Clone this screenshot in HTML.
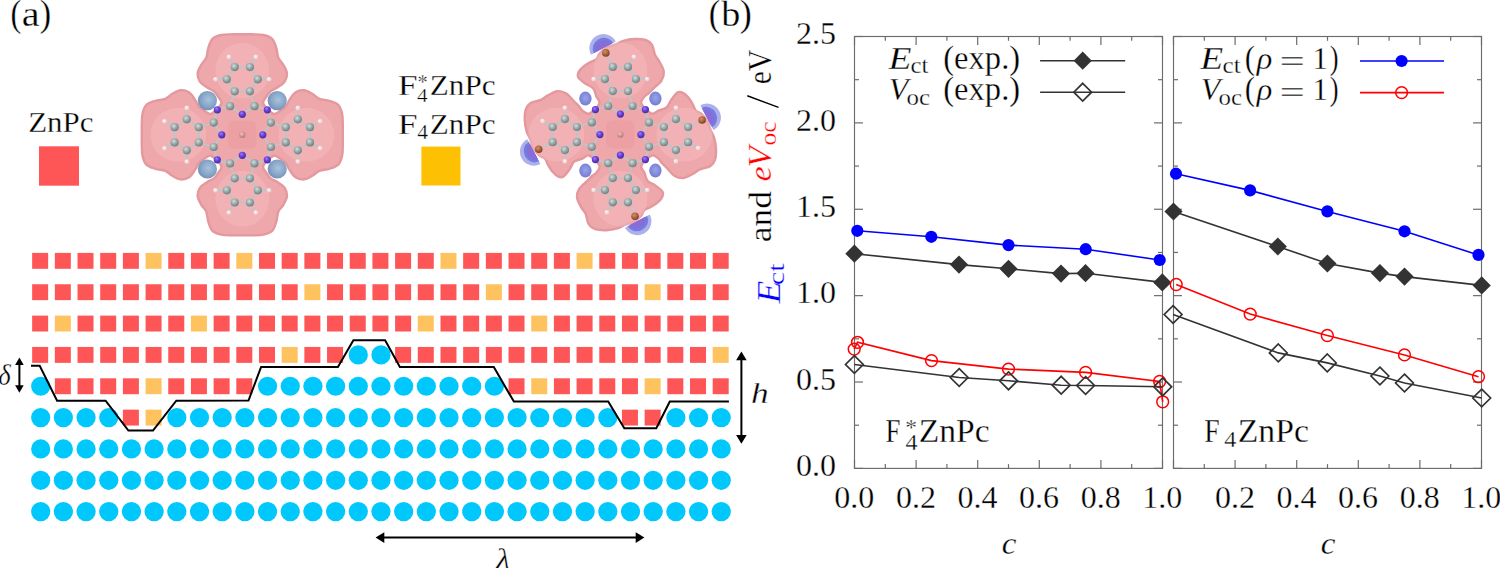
<!DOCTYPE html>
<html><head><meta charset="utf-8"><style>
html,body{margin:0;padding:0;background:#fff;overflow:hidden;width:1500px;height:568px;}
svg{display:block;font-family:"Liberation Serif", serif;}
text{stroke:#fff;stroke-width:0.3px;}
</style></head><body>
<svg width="1500" height="568" viewBox="0 0 1500 568">
<defs>
<radialGradient id="gC" cx="0.4" cy="0.35" r="0.65"><stop offset="0" stop-color="#d4dede"/><stop offset="0.5" stop-color="#9aabab"/><stop offset="1" stop-color="#6e8080"/></radialGradient>
<radialGradient id="gN" cx="0.4" cy="0.35" r="0.65"><stop offset="0" stop-color="#9a80ff"/><stop offset="0.5" stop-color="#6a3fd8"/><stop offset="1" stop-color="#4a2aa0"/></radialGradient>
<radialGradient id="gH" cx="0.4" cy="0.35" r="0.65"><stop offset="0" stop-color="#fff6f6"/><stop offset="1" stop-color="#e8c8c8"/></radialGradient>
<radialGradient id="gZ" cx="0.4" cy="0.35" r="0.65"><stop offset="0" stop-color="#f0c0b8"/><stop offset="1" stop-color="#b87870"/></radialGradient>
<radialGradient id="gB" cx="0.55" cy="0.45" r="0.6"><stop offset="0" stop-color="#a9c3de"/><stop offset="0.6" stop-color="#89a6c8"/><stop offset="1" stop-color="#6f8db3"/></radialGradient>
<radialGradient id="gP" cx="0.5" cy="0.45" r="0.6"><stop offset="0" stop-color="#9aa4ea"/><stop offset="1" stop-color="#6f78d0"/></radialGradient>
<radialGradient id="gFB" cx="0.5" cy="0.5" r="0.55"><stop offset="0" stop-color="#5a5ad8" stop-opacity="0.95"/><stop offset="0.7" stop-color="#6c70d8" stop-opacity="0.85"/><stop offset="1" stop-color="#8a90e0" stop-opacity="0.6"/></radialGradient>
<radialGradient id="gF" cx="0.4" cy="0.35" r="0.65"><stop offset="0" stop-color="#d89060"/><stop offset="0.6" stop-color="#a8603a"/><stop offset="1" stop-color="#7a4020"/></radialGradient>
</defs>
<text x="10.48" y="26.20" font-size="38.5" fill="#000" textLength="10.76" lengthAdjust="spacingAndGlyphs">(</text>
<text x="21.88" y="26.20" font-size="35" fill="#000" textLength="17.87" lengthAdjust="spacingAndGlyphs">a</text>
<text x="39.80" y="26.20" font-size="38.5" fill="#000" textLength="11.41" lengthAdjust="spacingAndGlyphs">)</text>
<text x="708.69" y="26.20" font-size="38.5" fill="#000" textLength="11.41" lengthAdjust="spacingAndGlyphs">(</text>
<text x="721.30" y="26.20" font-size="35" fill="#000" textLength="19.05" lengthAdjust="spacingAndGlyphs">b</text>
<text x="739.83" y="26.20" font-size="38.5" fill="#000" textLength="12.06" lengthAdjust="spacingAndGlyphs">)</text>
<text x="28.22" y="132.20" font-size="29.8" fill="#000" textLength="65.23" lengthAdjust="spacingAndGlyphs">ZnPc</text>
<rect x="39" y="146.3" width="40" height="39.4" fill="#fe5656"/>
<rect x="421.4" y="146.6" width="39.1" height="38.9" fill="#fec002"/>
<text x="397.87" y="94.60" font-size="29.8" fill="#000" textLength="19.81" lengthAdjust="spacingAndGlyphs">F</text>
<text x="416.98" y="101.70" font-size="18.5" fill="#000" textLength="10.65" lengthAdjust="spacingAndGlyphs">4</text>
<text x="417.51" y="89.25" font-size="21" fill="#000" textLength="10.17" lengthAdjust="spacingAndGlyphs">*</text>
<text x="429.81" y="94.60" font-size="29.8" fill="#000" textLength="65.75" lengthAdjust="spacingAndGlyphs">ZnPc</text>
<text x="397.87" y="134.00" font-size="29.8" fill="#000" textLength="19.81" lengthAdjust="spacingAndGlyphs">F</text>
<text x="417.28" y="138.60" font-size="20.5" fill="#000" textLength="10.76" lengthAdjust="spacingAndGlyphs">4</text>
<text x="429.81" y="134.00" font-size="29.8" fill="#000" textLength="65.75" lengthAdjust="spacingAndGlyphs">ZnPc</text>
<path d="M221.30,103.80 C222.47,100.97 219.47,98.85 218.30,96.80 C217.13,94.75 216.20,93.08 214.30,91.50 C212.40,89.92 209.30,88.93 206.90,87.30 C204.50,85.67 201.43,84.05 199.90,81.70 C198.37,79.35 197.47,76.02 197.70,73.20 C197.93,70.38 199.87,67.37 201.30,64.80 C202.73,62.23 205.13,60.62 206.30,57.80 C207.47,54.98 207.27,51.07 208.30,47.90 C209.33,44.73 210.33,40.95 212.50,38.80 C214.67,36.65 218.00,35.75 221.30,35.00 C224.60,34.25 228.80,34.42 232.30,34.30 C235.80,34.18 238.97,34.30 242.30,34.30 C245.63,34.30 248.80,34.18 252.30,34.30 C255.80,34.42 260.00,34.25 263.30,35.00 C266.60,35.75 269.93,36.65 272.10,38.80 C274.27,40.95 275.27,44.73 276.30,47.90 C277.33,51.07 277.13,54.98 278.30,57.80 C279.47,60.62 281.87,62.23 283.30,64.80 C284.73,67.37 286.67,70.38 286.90,73.20 C287.13,76.02 286.23,79.35 284.70,81.70 C283.17,84.05 280.10,85.67 277.70,87.30 C275.30,88.93 272.20,89.92 270.30,91.50 C268.40,93.08 267.47,94.75 266.30,96.80 C265.13,98.85 262.13,100.97 263.30,103.80 C264.47,106.63 270.47,112.63 273.30,113.80 C276.13,114.97 278.25,111.97 280.30,110.80 C282.35,109.63 284.02,108.70 285.60,106.80 C287.18,104.90 288.17,101.80 289.80,99.40 C291.43,97.00 293.05,93.93 295.40,92.40 C297.75,90.87 301.08,89.97 303.90,90.20 C306.72,90.43 309.73,92.37 312.30,93.80 C314.87,95.23 316.48,97.63 319.30,98.80 C322.12,99.97 326.03,99.77 329.20,100.80 C332.37,101.83 336.15,102.83 338.30,105.00 C340.45,107.17 341.35,110.50 342.10,113.80 C342.85,117.10 342.68,121.30 342.80,124.80 C342.92,128.30 342.80,131.47 342.80,134.80 C342.80,138.13 342.92,141.30 342.80,144.80 C342.68,148.30 342.85,152.50 342.10,155.80 C341.35,159.10 340.45,162.43 338.30,164.60 C336.15,166.77 332.37,167.77 329.20,168.80 C326.03,169.83 322.12,169.63 319.30,170.80 C316.48,171.97 314.87,174.37 312.30,175.80 C309.73,177.23 306.72,179.17 303.90,179.40 C301.08,179.63 297.75,178.73 295.40,177.20 C293.05,175.67 291.43,172.60 289.80,170.20 C288.17,167.80 287.18,164.70 285.60,162.80 C284.02,160.90 282.35,159.97 280.30,158.80 C278.25,157.63 276.13,154.63 273.30,155.80 C270.47,156.97 264.47,162.97 263.30,165.80 C262.13,168.63 265.13,170.75 266.30,172.80 C267.47,174.85 268.40,176.52 270.30,178.10 C272.20,179.68 275.30,180.67 277.70,182.30 C280.10,183.93 283.17,185.55 284.70,187.90 C286.23,190.25 287.13,193.58 286.90,196.40 C286.67,199.22 284.73,202.23 283.30,204.80 C281.87,207.37 279.47,208.98 278.30,211.80 C277.13,214.62 277.33,218.53 276.30,221.70 C275.27,224.87 274.27,228.65 272.10,230.80 C269.93,232.95 266.60,233.85 263.30,234.60 C260.00,235.35 255.80,235.18 252.30,235.30 C248.80,235.42 245.63,235.30 242.30,235.30 C238.97,235.30 235.80,235.42 232.30,235.30 C228.80,235.18 224.60,235.35 221.30,234.60 C218.00,233.85 214.67,232.95 212.50,230.80 C210.33,228.65 209.33,224.87 208.30,221.70 C207.27,218.53 207.47,214.62 206.30,211.80 C205.13,208.98 202.73,207.37 201.30,204.80 C199.87,202.23 197.93,199.22 197.70,196.40 C197.47,193.58 198.37,190.25 199.90,187.90 C201.43,185.55 204.50,183.93 206.90,182.30 C209.30,180.67 212.40,179.68 214.30,178.10 C216.20,176.52 217.13,174.85 218.30,172.80 C219.47,170.75 222.47,168.63 221.30,165.80 C220.13,162.97 214.13,156.97 211.30,155.80 C208.47,154.63 206.35,157.63 204.30,158.80 C202.25,159.97 200.58,160.90 199.00,162.80 C197.42,164.70 196.43,167.80 194.80,170.20 C193.17,172.60 191.55,175.67 189.20,177.20 C186.85,178.73 183.52,179.63 180.70,179.40 C177.88,179.17 174.87,177.23 172.30,175.80 C169.73,174.37 168.12,171.97 165.30,170.80 C162.48,169.63 158.57,169.83 155.40,168.80 C152.23,167.77 148.45,166.77 146.30,164.60 C144.15,162.43 143.25,159.10 142.50,155.80 C141.75,152.50 141.92,148.30 141.80,144.80 C141.68,141.30 141.80,138.13 141.80,134.80 C141.80,131.47 141.68,128.30 141.80,124.80 C141.92,121.30 141.75,117.10 142.50,113.80 C143.25,110.50 144.15,107.17 146.30,105.00 C148.45,102.83 152.23,101.83 155.40,100.80 C158.57,99.77 162.48,99.97 165.30,98.80 C168.12,97.63 169.73,95.23 172.30,93.80 C174.87,92.37 177.88,90.43 180.70,90.20 C183.52,89.97 186.85,90.87 189.20,92.40 C191.55,93.93 193.17,97.00 194.80,99.40 C196.43,101.80 197.42,104.90 199.00,106.80 C200.58,108.70 202.25,109.63 204.30,110.80 C206.35,111.97 208.47,114.97 211.30,113.80 C214.13,112.63 220.13,106.63 221.30,103.80Z" fill="#eea7aa" stroke="#e3999d" stroke-width="2.4"/>
<ellipse cx="242.3" cy="70.8" rx="27" ry="28" fill="#f5bcbe" opacity="0.5"/>
<ellipse cx="306.3" cy="134.8" rx="28" ry="27" fill="#f5bcbe" opacity="0.5"/>
<ellipse cx="242.3" cy="198.8" rx="27" ry="28" fill="#f5bcbe" opacity="0.5"/>
<ellipse cx="178.3" cy="134.8" rx="28" ry="27" fill="#f5bcbe" opacity="0.5"/>
<rect x="228.3" y="120.80000000000001" width="28" height="28" rx="6" fill="#e99a9d" opacity="0.5"/>
<circle cx="207.4" cy="100.6" r="9.6" fill="url(#gB)"/>
<circle cx="277.2" cy="100.6" r="9.6" fill="url(#gB)"/>
<circle cx="207.4" cy="169.0" r="9.6" fill="url(#gB)"/>
<circle cx="277.2" cy="169.0" r="9.6" fill="url(#gB)"/>
<line x1="242.3" y1="114.3" x2="230.1" y2="106.2" stroke="#bcc6c8" stroke-width="1.8"/>
<line x1="242.3" y1="114.3" x2="254.5" y2="106.2" stroke="#bcc6c8" stroke-width="1.8"/>
<line x1="230.1" y1="106.2" x2="234.7" y2="91.3" stroke="#bcc6c8" stroke-width="1.8"/>
<line x1="254.5" y1="106.2" x2="249.9" y2="91.3" stroke="#bcc6c8" stroke-width="1.8"/>
<line x1="234.7" y1="91.3" x2="249.9" y2="91.3" stroke="#bcc6c8" stroke-width="1.8"/>
<line x1="234.7" y1="91.3" x2="226.8" y2="79.3" stroke="#bcc6c8" stroke-width="1.8"/>
<line x1="226.8" y1="79.3" x2="234.7" y2="67.1" stroke="#bcc6c8" stroke-width="1.8"/>
<line x1="234.7" y1="67.1" x2="249.9" y2="67.1" stroke="#bcc6c8" stroke-width="1.8"/>
<line x1="249.9" y1="67.1" x2="257.8" y2="79.3" stroke="#bcc6c8" stroke-width="1.8"/>
<line x1="257.8" y1="79.3" x2="249.9" y2="91.3" stroke="#bcc6c8" stroke-width="1.8"/>
<line x1="226.8" y1="79.3" x2="215.5" y2="79.3" stroke="#bcc6c8" stroke-width="1.8"/>
<line x1="257.8" y1="79.3" x2="269.1" y2="79.3" stroke="#bcc6c8" stroke-width="1.8"/>
<line x1="249.9" y1="67.1" x2="255.8" y2="57.0" stroke="#bcc6c8" stroke-width="1.8"/>
<line x1="254.5" y1="106.2" x2="267.3" y2="109.8" stroke="#bcc6c8" stroke-width="1.8"/>
<line x1="217.3" y1="109.8" x2="230.1" y2="106.2" stroke="#bcc6c8" stroke-width="1.8"/>
<line x1="234.7" y1="67.1" x2="228.8" y2="57.0" stroke="#bcc6c8" stroke-width="1.8"/>
<line x1="262.8" y1="134.8" x2="270.9" y2="122.6" stroke="#bcc6c8" stroke-width="1.8"/>
<line x1="262.8" y1="134.8" x2="270.9" y2="147.0" stroke="#bcc6c8" stroke-width="1.8"/>
<line x1="270.9" y1="122.6" x2="285.8" y2="127.2" stroke="#bcc6c8" stroke-width="1.8"/>
<line x1="270.9" y1="147.0" x2="285.8" y2="142.4" stroke="#bcc6c8" stroke-width="1.8"/>
<line x1="285.8" y1="127.2" x2="285.8" y2="142.4" stroke="#bcc6c8" stroke-width="1.8"/>
<line x1="285.8" y1="127.2" x2="297.8" y2="119.3" stroke="#bcc6c8" stroke-width="1.8"/>
<line x1="297.8" y1="119.3" x2="310.0" y2="127.2" stroke="#bcc6c8" stroke-width="1.8"/>
<line x1="310.0" y1="127.2" x2="310.0" y2="142.4" stroke="#bcc6c8" stroke-width="1.8"/>
<line x1="310.0" y1="142.4" x2="297.8" y2="150.3" stroke="#bcc6c8" stroke-width="1.8"/>
<line x1="297.8" y1="150.3" x2="285.8" y2="142.4" stroke="#bcc6c8" stroke-width="1.8"/>
<line x1="297.8" y1="119.3" x2="297.8" y2="108.0" stroke="#bcc6c8" stroke-width="1.8"/>
<line x1="297.8" y1="150.3" x2="297.8" y2="161.6" stroke="#bcc6c8" stroke-width="1.8"/>
<line x1="310.0" y1="142.4" x2="320.1" y2="148.3" stroke="#bcc6c8" stroke-width="1.8"/>
<line x1="270.9" y1="147.0" x2="267.3" y2="159.8" stroke="#bcc6c8" stroke-width="1.8"/>
<line x1="267.3" y1="109.8" x2="270.9" y2="122.6" stroke="#bcc6c8" stroke-width="1.8"/>
<line x1="310.0" y1="127.2" x2="320.1" y2="121.3" stroke="#bcc6c8" stroke-width="1.8"/>
<line x1="242.3" y1="155.3" x2="254.5" y2="163.4" stroke="#bcc6c8" stroke-width="1.8"/>
<line x1="242.3" y1="155.3" x2="230.1" y2="163.4" stroke="#bcc6c8" stroke-width="1.8"/>
<line x1="254.5" y1="163.4" x2="249.9" y2="178.3" stroke="#bcc6c8" stroke-width="1.8"/>
<line x1="230.1" y1="163.4" x2="234.7" y2="178.3" stroke="#bcc6c8" stroke-width="1.8"/>
<line x1="249.9" y1="178.3" x2="234.7" y2="178.3" stroke="#bcc6c8" stroke-width="1.8"/>
<line x1="249.9" y1="178.3" x2="257.8" y2="190.3" stroke="#bcc6c8" stroke-width="1.8"/>
<line x1="257.8" y1="190.3" x2="249.9" y2="202.5" stroke="#bcc6c8" stroke-width="1.8"/>
<line x1="249.9" y1="202.5" x2="234.7" y2="202.5" stroke="#bcc6c8" stroke-width="1.8"/>
<line x1="234.7" y1="202.5" x2="226.8" y2="190.3" stroke="#bcc6c8" stroke-width="1.8"/>
<line x1="226.8" y1="190.3" x2="234.7" y2="178.3" stroke="#bcc6c8" stroke-width="1.8"/>
<line x1="257.8" y1="190.3" x2="269.1" y2="190.3" stroke="#bcc6c8" stroke-width="1.8"/>
<line x1="226.8" y1="190.3" x2="215.5" y2="190.3" stroke="#bcc6c8" stroke-width="1.8"/>
<line x1="234.7" y1="202.5" x2="228.8" y2="212.6" stroke="#bcc6c8" stroke-width="1.8"/>
<line x1="230.1" y1="163.4" x2="217.3" y2="159.8" stroke="#bcc6c8" stroke-width="1.8"/>
<line x1="267.3" y1="159.8" x2="254.5" y2="163.4" stroke="#bcc6c8" stroke-width="1.8"/>
<line x1="249.9" y1="202.5" x2="255.8" y2="212.6" stroke="#bcc6c8" stroke-width="1.8"/>
<line x1="221.8" y1="134.8" x2="213.7" y2="147.0" stroke="#bcc6c8" stroke-width="1.8"/>
<line x1="221.8" y1="134.8" x2="213.7" y2="122.6" stroke="#bcc6c8" stroke-width="1.8"/>
<line x1="213.7" y1="147.0" x2="198.8" y2="142.4" stroke="#bcc6c8" stroke-width="1.8"/>
<line x1="213.7" y1="122.6" x2="198.8" y2="127.2" stroke="#bcc6c8" stroke-width="1.8"/>
<line x1="198.8" y1="142.4" x2="198.8" y2="127.2" stroke="#bcc6c8" stroke-width="1.8"/>
<line x1="198.8" y1="142.4" x2="186.8" y2="150.3" stroke="#bcc6c8" stroke-width="1.8"/>
<line x1="186.8" y1="150.3" x2="174.6" y2="142.4" stroke="#bcc6c8" stroke-width="1.8"/>
<line x1="174.6" y1="142.4" x2="174.6" y2="127.2" stroke="#bcc6c8" stroke-width="1.8"/>
<line x1="174.6" y1="127.2" x2="186.8" y2="119.3" stroke="#bcc6c8" stroke-width="1.8"/>
<line x1="186.8" y1="119.3" x2="198.8" y2="127.2" stroke="#bcc6c8" stroke-width="1.8"/>
<line x1="186.8" y1="150.3" x2="186.8" y2="161.6" stroke="#bcc6c8" stroke-width="1.8"/>
<line x1="186.8" y1="119.3" x2="186.8" y2="108.0" stroke="#bcc6c8" stroke-width="1.8"/>
<line x1="174.6" y1="127.2" x2="164.5" y2="121.3" stroke="#bcc6c8" stroke-width="1.8"/>
<line x1="213.7" y1="122.6" x2="217.3" y2="109.8" stroke="#bcc6c8" stroke-width="1.8"/>
<line x1="217.3" y1="159.8" x2="213.7" y2="147.0" stroke="#bcc6c8" stroke-width="1.8"/>
<line x1="174.6" y1="142.4" x2="164.5" y2="148.3" stroke="#bcc6c8" stroke-width="1.8"/>
<circle cx="230.1" cy="106.2" r="4.1" fill="url(#gC)"/>
<circle cx="254.5" cy="106.2" r="4.1" fill="url(#gC)"/>
<circle cx="234.7" cy="91.3" r="4.1" fill="url(#gC)"/>
<circle cx="249.9" cy="91.3" r="4.1" fill="url(#gC)"/>
<circle cx="226.8" cy="79.3" r="4.1" fill="url(#gC)"/>
<circle cx="257.8" cy="79.3" r="4.1" fill="url(#gC)"/>
<circle cx="234.7" cy="67.1" r="4.1" fill="url(#gC)"/>
<circle cx="249.9" cy="67.1" r="4.1" fill="url(#gC)"/>
<circle cx="270.9" cy="122.6" r="4.1" fill="url(#gC)"/>
<circle cx="270.9" cy="147.0" r="4.1" fill="url(#gC)"/>
<circle cx="285.8" cy="127.2" r="4.1" fill="url(#gC)"/>
<circle cx="285.8" cy="142.4" r="4.1" fill="url(#gC)"/>
<circle cx="297.8" cy="119.3" r="4.1" fill="url(#gC)"/>
<circle cx="297.8" cy="150.3" r="4.1" fill="url(#gC)"/>
<circle cx="310.0" cy="127.2" r="4.1" fill="url(#gC)"/>
<circle cx="310.0" cy="142.4" r="4.1" fill="url(#gC)"/>
<circle cx="254.5" cy="163.4" r="4.1" fill="url(#gC)"/>
<circle cx="230.1" cy="163.4" r="4.1" fill="url(#gC)"/>
<circle cx="249.9" cy="178.3" r="4.1" fill="url(#gC)"/>
<circle cx="234.7" cy="178.3" r="4.1" fill="url(#gC)"/>
<circle cx="257.8" cy="190.3" r="4.1" fill="url(#gC)"/>
<circle cx="226.8" cy="190.3" r="4.1" fill="url(#gC)"/>
<circle cx="249.9" cy="202.5" r="4.1" fill="url(#gC)"/>
<circle cx="234.7" cy="202.5" r="4.1" fill="url(#gC)"/>
<circle cx="213.7" cy="147.0" r="4.1" fill="url(#gC)"/>
<circle cx="213.7" cy="122.6" r="4.1" fill="url(#gC)"/>
<circle cx="198.8" cy="142.4" r="4.1" fill="url(#gC)"/>
<circle cx="198.8" cy="127.2" r="4.1" fill="url(#gC)"/>
<circle cx="186.8" cy="150.3" r="4.1" fill="url(#gC)"/>
<circle cx="186.8" cy="119.3" r="4.1" fill="url(#gC)"/>
<circle cx="174.6" cy="142.4" r="4.1" fill="url(#gC)"/>
<circle cx="174.6" cy="127.2" r="4.1" fill="url(#gC)"/>
<circle cx="242.3" cy="114.3" r="3.6" fill="url(#gN)"/>
<circle cx="267.3" cy="109.8" r="3.6" fill="url(#gN)"/>
<circle cx="262.8" cy="134.8" r="3.6" fill="url(#gN)"/>
<circle cx="267.3" cy="159.8" r="3.6" fill="url(#gN)"/>
<circle cx="242.3" cy="155.3" r="3.6" fill="url(#gN)"/>
<circle cx="217.3" cy="159.8" r="3.6" fill="url(#gN)"/>
<circle cx="221.8" cy="134.8" r="3.6" fill="url(#gN)"/>
<circle cx="217.3" cy="109.8" r="3.6" fill="url(#gN)"/>
<circle cx="228.8" cy="57.0" r="2.4" fill="url(#gH)"/>
<circle cx="215.5" cy="79.3" r="2.4" fill="url(#gH)"/>
<circle cx="269.1" cy="79.3" r="2.4" fill="url(#gH)"/>
<circle cx="255.8" cy="57.0" r="2.4" fill="url(#gH)"/>
<circle cx="320.1" cy="121.3" r="2.4" fill="url(#gH)"/>
<circle cx="297.8" cy="108.0" r="2.4" fill="url(#gH)"/>
<circle cx="297.8" cy="161.6" r="2.4" fill="url(#gH)"/>
<circle cx="320.1" cy="148.3" r="2.4" fill="url(#gH)"/>
<circle cx="255.8" cy="212.6" r="2.4" fill="url(#gH)"/>
<circle cx="269.1" cy="190.3" r="2.4" fill="url(#gH)"/>
<circle cx="215.5" cy="190.3" r="2.4" fill="url(#gH)"/>
<circle cx="228.8" cy="212.6" r="2.4" fill="url(#gH)"/>
<circle cx="164.5" cy="148.3" r="2.4" fill="url(#gH)"/>
<circle cx="186.8" cy="161.6" r="2.4" fill="url(#gH)"/>
<circle cx="186.8" cy="108.0" r="2.4" fill="url(#gH)"/>
<circle cx="164.5" cy="121.3" r="2.4" fill="url(#gH)"/>
<circle cx="242.3" cy="134.8" r="3.2" fill="url(#gZ)"/>
<path d="M599.40,103.60 C600.57,100.77 597.42,99.13 596.40,96.60 C595.38,94.07 595.13,90.57 593.30,88.40 C591.47,86.23 587.92,85.45 585.40,83.60 C582.88,81.75 579.28,79.30 578.20,77.30 C577.12,75.30 578.03,73.38 578.90,71.60 C579.77,69.82 581.48,68.18 583.40,66.60 C585.32,65.02 588.22,63.35 590.40,62.10 C592.58,60.85 594.97,60.53 596.50,59.10 C598.03,57.67 597.75,55.48 599.60,53.50 C601.45,51.52 604.95,48.68 607.60,47.20 C610.25,45.72 612.87,45.65 615.50,44.60 C618.13,43.55 620.23,41.83 623.40,40.90 C626.57,39.97 630.80,39.15 634.50,39.00 C638.20,38.85 642.68,39.03 645.60,40.00 C648.52,40.97 650.42,42.28 652.00,44.80 C653.58,47.32 653.87,52.30 655.10,55.10 C656.33,57.90 657.95,58.85 659.40,61.60 C660.85,64.35 663.45,68.45 663.80,71.60 C664.15,74.75 663.22,77.70 661.50,80.50 C659.78,83.30 655.62,86.28 653.50,88.40 C651.38,90.52 650.32,91.83 648.80,93.20 C647.28,94.57 645.63,94.87 644.40,96.60 C643.17,98.33 640.23,100.77 641.40,103.60 C642.57,106.43 648.57,112.43 651.40,113.60 C654.23,114.77 655.87,111.62 658.40,110.60 C660.93,109.58 664.43,109.33 666.60,107.50 C668.77,105.67 669.55,102.12 671.40,99.60 C673.25,97.08 675.70,93.48 677.70,92.40 C679.70,91.32 681.62,92.23 683.40,93.10 C685.18,93.97 686.82,95.68 688.40,97.60 C689.98,99.52 691.65,102.42 692.90,104.60 C694.15,106.78 694.47,109.17 695.90,110.70 C697.33,112.23 699.52,111.95 701.50,113.80 C703.48,115.65 706.32,119.15 707.80,121.80 C709.28,124.45 709.35,127.07 710.40,129.70 C711.45,132.33 713.17,134.43 714.10,137.60 C715.03,140.77 715.85,145.00 716.00,148.70 C716.15,152.40 715.97,156.88 715.00,159.80 C714.03,162.72 712.72,164.62 710.20,166.20 C707.68,167.78 702.70,168.07 699.90,169.30 C697.10,170.53 696.15,172.15 693.40,173.60 C690.65,175.05 686.55,177.65 683.40,178.00 C680.25,178.35 677.30,177.42 674.50,175.70 C671.70,173.98 668.72,169.82 666.60,167.70 C664.48,165.58 663.17,164.52 661.80,163.00 C660.43,161.48 660.13,159.83 658.40,158.60 C656.67,157.37 654.23,154.43 651.40,155.60 C648.57,156.77 642.57,162.77 641.40,165.60 C640.23,168.43 643.38,170.07 644.40,172.60 C645.42,175.13 645.67,178.63 647.50,180.80 C649.33,182.97 652.88,183.75 655.40,185.60 C657.92,187.45 661.52,189.90 662.60,191.90 C663.68,193.90 662.77,195.82 661.90,197.60 C661.03,199.38 659.32,201.02 657.40,202.60 C655.48,204.18 652.58,205.85 650.40,207.10 C648.22,208.35 645.83,208.67 644.30,210.10 C642.77,211.53 643.05,213.72 641.20,215.70 C639.35,217.68 635.85,220.52 633.20,222.00 C630.55,223.48 627.93,223.55 625.30,224.60 C622.67,225.65 620.57,227.37 617.40,228.30 C614.23,229.23 610.00,230.05 606.30,230.20 C602.60,230.35 598.12,230.17 595.20,229.20 C592.28,228.23 590.38,226.92 588.80,224.40 C587.22,221.88 586.93,216.90 585.70,214.10 C584.47,211.30 582.85,210.35 581.40,207.60 C579.95,204.85 577.35,200.75 577.00,197.60 C576.65,194.45 577.58,191.50 579.30,188.70 C581.02,185.90 585.18,182.92 587.30,180.80 C589.42,178.68 590.48,177.37 592.00,176.00 C593.52,174.63 595.17,174.33 596.40,172.60 C597.63,170.87 600.57,168.43 599.40,165.60 C598.23,162.77 592.23,156.77 589.40,155.60 C586.57,154.43 584.93,157.58 582.40,158.60 C579.87,159.62 576.37,159.87 574.20,161.70 C572.03,163.53 571.25,167.08 569.40,169.60 C567.55,172.12 565.10,175.72 563.10,176.80 C561.10,177.88 559.18,176.97 557.40,176.10 C555.62,175.23 553.98,173.52 552.40,171.60 C550.82,169.68 549.15,166.78 547.90,164.60 C546.65,162.42 546.33,160.03 544.90,158.50 C543.47,156.97 541.28,157.25 539.30,155.40 C537.32,153.55 534.48,150.05 533.00,147.40 C531.52,144.75 531.45,142.13 530.40,139.50 C529.35,136.87 527.63,134.77 526.70,131.60 C525.77,128.43 524.95,124.20 524.80,120.50 C524.65,116.80 524.83,112.32 525.80,109.40 C526.77,106.48 528.08,104.58 530.60,103.00 C533.12,101.42 538.10,101.13 540.90,99.90 C543.70,98.67 544.65,97.05 547.40,95.60 C550.15,94.15 554.25,91.55 557.40,91.20 C560.55,90.85 563.50,91.78 566.30,93.50 C569.10,95.22 572.08,99.38 574.20,101.50 C576.32,103.62 577.63,104.68 579.00,106.20 C580.37,107.72 580.67,109.37 582.40,110.60 C584.13,111.83 586.57,114.77 589.40,113.60 C592.23,112.43 598.23,106.43 599.40,103.60Z" fill="#eea7aa" stroke="#e3999d" stroke-width="2.4"/>
<ellipse cx="620.4" cy="70.6" rx="27" ry="28" fill="#f5bcbe" opacity="0.5"/>
<ellipse cx="684.4" cy="134.6" rx="28" ry="27" fill="#f5bcbe" opacity="0.5"/>
<ellipse cx="620.4" cy="198.6" rx="27" ry="28" fill="#f5bcbe" opacity="0.5"/>
<ellipse cx="556.4" cy="134.6" rx="28" ry="27" fill="#f5bcbe" opacity="0.5"/>
<rect x="606.4" y="120.6" width="28" height="28" rx="6" fill="#e99a9d" opacity="0.5"/>
<ellipse cx="585.4" cy="98.6" rx="6.2" ry="7" fill="url(#gP)"/>
<ellipse cx="655.4" cy="98.6" rx="6.2" ry="7" fill="url(#gP)"/>
<ellipse cx="585.4" cy="170.6" rx="6.2" ry="7" fill="url(#gP)"/>
<ellipse cx="655.4" cy="170.6" rx="6.2" ry="7" fill="url(#gP)"/>
<g transform="translate(603.4,48.1) rotate(-118)"><path d="M0,-14 A14,14 0 0,1 0,14 Z" fill="#aeb0ec"/><path d="M0,-11 A10,11 0 0,1 0,11 Z" fill="#737ce0"/><path d="M0,-8.5 A7,8.5 0 0,1 0,8.5 Z" fill="#8a6cd8"/></g>
<g transform="translate(706.9,117.6) rotate(-28)"><path d="M0,-14 A14,14 0 0,1 0,14 Z" fill="#aeb0ec"/><path d="M0,-11 A10,11 0 0,1 0,11 Z" fill="#737ce0"/><path d="M0,-8.5 A7,8.5 0 0,1 0,8.5 Z" fill="#8a6cd8"/></g>
<g transform="translate(637.4,221.1) rotate(62)"><path d="M0,-14 A14,14 0 0,1 0,14 Z" fill="#aeb0ec"/><path d="M0,-11 A10,11 0 0,1 0,11 Z" fill="#737ce0"/><path d="M0,-8.5 A7,8.5 0 0,1 0,8.5 Z" fill="#8a6cd8"/></g>
<g transform="translate(533.9,151.6) rotate(152)"><path d="M0,-14 A14,14 0 0,1 0,14 Z" fill="#aeb0ec"/><path d="M0,-11 A10,11 0 0,1 0,11 Z" fill="#737ce0"/><path d="M0,-8.5 A7,8.5 0 0,1 0,8.5 Z" fill="#8a6cd8"/></g>
<line x1="620.4" y1="114.1" x2="608.2" y2="106.0" stroke="#bcc6c8" stroke-width="1.8"/>
<line x1="620.4" y1="114.1" x2="632.6" y2="106.0" stroke="#bcc6c8" stroke-width="1.8"/>
<line x1="608.2" y1="106.0" x2="612.8" y2="91.1" stroke="#bcc6c8" stroke-width="1.8"/>
<line x1="632.6" y1="106.0" x2="628.0" y2="91.1" stroke="#bcc6c8" stroke-width="1.8"/>
<line x1="612.8" y1="91.1" x2="628.0" y2="91.1" stroke="#bcc6c8" stroke-width="1.8"/>
<line x1="612.8" y1="91.1" x2="604.9" y2="79.1" stroke="#bcc6c8" stroke-width="1.8"/>
<line x1="604.9" y1="79.1" x2="612.8" y2="66.9" stroke="#bcc6c8" stroke-width="1.8"/>
<line x1="612.8" y1="66.9" x2="628.0" y2="66.9" stroke="#bcc6c8" stroke-width="1.8"/>
<line x1="628.0" y1="66.9" x2="635.9" y2="79.1" stroke="#bcc6c8" stroke-width="1.8"/>
<line x1="635.9" y1="79.1" x2="628.0" y2="91.1" stroke="#bcc6c8" stroke-width="1.8"/>
<line x1="604.9" y1="79.1" x2="593.6" y2="79.1" stroke="#bcc6c8" stroke-width="1.8"/>
<line x1="635.9" y1="79.1" x2="647.2" y2="79.1" stroke="#bcc6c8" stroke-width="1.8"/>
<line x1="628.0" y1="66.9" x2="633.9" y2="56.8" stroke="#bcc6c8" stroke-width="1.8"/>
<line x1="632.6" y1="106.0" x2="645.4" y2="109.6" stroke="#bcc6c8" stroke-width="1.8"/>
<line x1="595.4" y1="109.6" x2="608.2" y2="106.0" stroke="#bcc6c8" stroke-width="1.8"/>
<line x1="612.8" y1="66.9" x2="605.8" y2="52.9" stroke="#bcc6c8" stroke-width="1.8"/>
<line x1="640.9" y1="134.6" x2="649.0" y2="122.4" stroke="#bcc6c8" stroke-width="1.8"/>
<line x1="640.9" y1="134.6" x2="649.0" y2="146.8" stroke="#bcc6c8" stroke-width="1.8"/>
<line x1="649.0" y1="122.4" x2="663.9" y2="127.0" stroke="#bcc6c8" stroke-width="1.8"/>
<line x1="649.0" y1="146.8" x2="663.9" y2="142.2" stroke="#bcc6c8" stroke-width="1.8"/>
<line x1="663.9" y1="127.0" x2="663.9" y2="142.2" stroke="#bcc6c8" stroke-width="1.8"/>
<line x1="663.9" y1="127.0" x2="675.9" y2="119.1" stroke="#bcc6c8" stroke-width="1.8"/>
<line x1="675.9" y1="119.1" x2="688.1" y2="127.0" stroke="#bcc6c8" stroke-width="1.8"/>
<line x1="688.1" y1="127.0" x2="688.1" y2="142.2" stroke="#bcc6c8" stroke-width="1.8"/>
<line x1="688.1" y1="142.2" x2="675.9" y2="150.1" stroke="#bcc6c8" stroke-width="1.8"/>
<line x1="675.9" y1="150.1" x2="663.9" y2="142.2" stroke="#bcc6c8" stroke-width="1.8"/>
<line x1="675.9" y1="119.1" x2="675.9" y2="107.8" stroke="#bcc6c8" stroke-width="1.8"/>
<line x1="675.9" y1="150.1" x2="675.9" y2="161.4" stroke="#bcc6c8" stroke-width="1.8"/>
<line x1="688.1" y1="142.2" x2="698.2" y2="148.1" stroke="#bcc6c8" stroke-width="1.8"/>
<line x1="649.0" y1="146.8" x2="645.4" y2="159.6" stroke="#bcc6c8" stroke-width="1.8"/>
<line x1="645.4" y1="109.6" x2="649.0" y2="122.4" stroke="#bcc6c8" stroke-width="1.8"/>
<line x1="688.1" y1="127.0" x2="702.1" y2="120.0" stroke="#bcc6c8" stroke-width="1.8"/>
<line x1="620.4" y1="155.1" x2="632.6" y2="163.2" stroke="#bcc6c8" stroke-width="1.8"/>
<line x1="620.4" y1="155.1" x2="608.2" y2="163.2" stroke="#bcc6c8" stroke-width="1.8"/>
<line x1="632.6" y1="163.2" x2="628.0" y2="178.1" stroke="#bcc6c8" stroke-width="1.8"/>
<line x1="608.2" y1="163.2" x2="612.8" y2="178.1" stroke="#bcc6c8" stroke-width="1.8"/>
<line x1="628.0" y1="178.1" x2="612.8" y2="178.1" stroke="#bcc6c8" stroke-width="1.8"/>
<line x1="628.0" y1="178.1" x2="635.9" y2="190.1" stroke="#bcc6c8" stroke-width="1.8"/>
<line x1="635.9" y1="190.1" x2="628.0" y2="202.3" stroke="#bcc6c8" stroke-width="1.8"/>
<line x1="628.0" y1="202.3" x2="612.8" y2="202.3" stroke="#bcc6c8" stroke-width="1.8"/>
<line x1="612.8" y1="202.3" x2="604.9" y2="190.1" stroke="#bcc6c8" stroke-width="1.8"/>
<line x1="604.9" y1="190.1" x2="612.8" y2="178.1" stroke="#bcc6c8" stroke-width="1.8"/>
<line x1="635.9" y1="190.1" x2="647.2" y2="190.1" stroke="#bcc6c8" stroke-width="1.8"/>
<line x1="604.9" y1="190.1" x2="593.6" y2="190.1" stroke="#bcc6c8" stroke-width="1.8"/>
<line x1="612.8" y1="202.3" x2="606.9" y2="212.4" stroke="#bcc6c8" stroke-width="1.8"/>
<line x1="608.2" y1="163.2" x2="595.4" y2="159.6" stroke="#bcc6c8" stroke-width="1.8"/>
<line x1="645.4" y1="159.6" x2="632.6" y2="163.2" stroke="#bcc6c8" stroke-width="1.8"/>
<line x1="628.0" y1="202.3" x2="635.0" y2="216.3" stroke="#bcc6c8" stroke-width="1.8"/>
<line x1="599.9" y1="134.6" x2="591.8" y2="146.8" stroke="#bcc6c8" stroke-width="1.8"/>
<line x1="599.9" y1="134.6" x2="591.8" y2="122.4" stroke="#bcc6c8" stroke-width="1.8"/>
<line x1="591.8" y1="146.8" x2="576.9" y2="142.2" stroke="#bcc6c8" stroke-width="1.8"/>
<line x1="591.8" y1="122.4" x2="576.9" y2="127.0" stroke="#bcc6c8" stroke-width="1.8"/>
<line x1="576.9" y1="142.2" x2="576.9" y2="127.0" stroke="#bcc6c8" stroke-width="1.8"/>
<line x1="576.9" y1="142.2" x2="564.9" y2="150.1" stroke="#bcc6c8" stroke-width="1.8"/>
<line x1="564.9" y1="150.1" x2="552.7" y2="142.2" stroke="#bcc6c8" stroke-width="1.8"/>
<line x1="552.7" y1="142.2" x2="552.7" y2="127.0" stroke="#bcc6c8" stroke-width="1.8"/>
<line x1="552.7" y1="127.0" x2="564.9" y2="119.1" stroke="#bcc6c8" stroke-width="1.8"/>
<line x1="564.9" y1="119.1" x2="576.9" y2="127.0" stroke="#bcc6c8" stroke-width="1.8"/>
<line x1="564.9" y1="150.1" x2="564.9" y2="161.4" stroke="#bcc6c8" stroke-width="1.8"/>
<line x1="564.9" y1="119.1" x2="564.9" y2="107.8" stroke="#bcc6c8" stroke-width="1.8"/>
<line x1="552.7" y1="127.0" x2="542.6" y2="121.1" stroke="#bcc6c8" stroke-width="1.8"/>
<line x1="591.8" y1="122.4" x2="595.4" y2="109.6" stroke="#bcc6c8" stroke-width="1.8"/>
<line x1="595.4" y1="159.6" x2="591.8" y2="146.8" stroke="#bcc6c8" stroke-width="1.8"/>
<line x1="552.7" y1="142.2" x2="538.7" y2="149.2" stroke="#bcc6c8" stroke-width="1.8"/>
<circle cx="608.2" cy="106.0" r="4.1" fill="url(#gC)"/>
<circle cx="632.6" cy="106.0" r="4.1" fill="url(#gC)"/>
<circle cx="612.8" cy="91.1" r="4.1" fill="url(#gC)"/>
<circle cx="628.0" cy="91.1" r="4.1" fill="url(#gC)"/>
<circle cx="604.9" cy="79.1" r="4.1" fill="url(#gC)"/>
<circle cx="635.9" cy="79.1" r="4.1" fill="url(#gC)"/>
<circle cx="612.8" cy="66.9" r="4.1" fill="url(#gC)"/>
<circle cx="628.0" cy="66.9" r="4.1" fill="url(#gC)"/>
<circle cx="649.0" cy="122.4" r="4.1" fill="url(#gC)"/>
<circle cx="649.0" cy="146.8" r="4.1" fill="url(#gC)"/>
<circle cx="663.9" cy="127.0" r="4.1" fill="url(#gC)"/>
<circle cx="663.9" cy="142.2" r="4.1" fill="url(#gC)"/>
<circle cx="675.9" cy="119.1" r="4.1" fill="url(#gC)"/>
<circle cx="675.9" cy="150.1" r="4.1" fill="url(#gC)"/>
<circle cx="688.1" cy="127.0" r="4.1" fill="url(#gC)"/>
<circle cx="688.1" cy="142.2" r="4.1" fill="url(#gC)"/>
<circle cx="632.6" cy="163.2" r="4.1" fill="url(#gC)"/>
<circle cx="608.2" cy="163.2" r="4.1" fill="url(#gC)"/>
<circle cx="628.0" cy="178.1" r="4.1" fill="url(#gC)"/>
<circle cx="612.8" cy="178.1" r="4.1" fill="url(#gC)"/>
<circle cx="635.9" cy="190.1" r="4.1" fill="url(#gC)"/>
<circle cx="604.9" cy="190.1" r="4.1" fill="url(#gC)"/>
<circle cx="628.0" cy="202.3" r="4.1" fill="url(#gC)"/>
<circle cx="612.8" cy="202.3" r="4.1" fill="url(#gC)"/>
<circle cx="591.8" cy="146.8" r="4.1" fill="url(#gC)"/>
<circle cx="591.8" cy="122.4" r="4.1" fill="url(#gC)"/>
<circle cx="576.9" cy="142.2" r="4.1" fill="url(#gC)"/>
<circle cx="576.9" cy="127.0" r="4.1" fill="url(#gC)"/>
<circle cx="564.9" cy="150.1" r="4.1" fill="url(#gC)"/>
<circle cx="564.9" cy="119.1" r="4.1" fill="url(#gC)"/>
<circle cx="552.7" cy="142.2" r="4.1" fill="url(#gC)"/>
<circle cx="552.7" cy="127.0" r="4.1" fill="url(#gC)"/>
<circle cx="620.4" cy="114.1" r="3.6" fill="url(#gN)"/>
<circle cx="645.4" cy="109.6" r="3.6" fill="url(#gN)"/>
<circle cx="640.9" cy="134.6" r="3.6" fill="url(#gN)"/>
<circle cx="645.4" cy="159.6" r="3.6" fill="url(#gN)"/>
<circle cx="620.4" cy="155.1" r="3.6" fill="url(#gN)"/>
<circle cx="595.4" cy="159.6" r="3.6" fill="url(#gN)"/>
<circle cx="599.9" cy="134.6" r="3.6" fill="url(#gN)"/>
<circle cx="595.4" cy="109.6" r="3.6" fill="url(#gN)"/>
<circle cx="593.6" cy="79.1" r="2.4" fill="url(#gH)"/>
<circle cx="647.2" cy="79.1" r="2.4" fill="url(#gH)"/>
<circle cx="633.9" cy="56.8" r="2.4" fill="url(#gH)"/>
<circle cx="675.9" cy="107.8" r="2.4" fill="url(#gH)"/>
<circle cx="675.9" cy="161.4" r="2.4" fill="url(#gH)"/>
<circle cx="698.2" cy="148.1" r="2.4" fill="url(#gH)"/>
<circle cx="647.2" cy="190.1" r="2.4" fill="url(#gH)"/>
<circle cx="593.6" cy="190.1" r="2.4" fill="url(#gH)"/>
<circle cx="606.9" cy="212.4" r="2.4" fill="url(#gH)"/>
<circle cx="564.9" cy="161.4" r="2.4" fill="url(#gH)"/>
<circle cx="564.9" cy="107.8" r="2.4" fill="url(#gH)"/>
<circle cx="542.6" cy="121.1" r="2.4" fill="url(#gH)"/>
<circle cx="605.8" cy="52.9" r="3.8" fill="url(#gF)"/>
<circle cx="702.1" cy="120.0" r="3.8" fill="url(#gF)"/>
<circle cx="635.0" cy="216.3" r="3.8" fill="url(#gF)"/>
<circle cx="538.7" cy="149.2" r="3.8" fill="url(#gF)"/>
<circle cx="620.4" cy="134.6" r="3.2" fill="url(#gZ)"/>
<rect x="32.15" y="252.90" width="16" height="15.9" fill="#fe5656"/>
<rect x="54.83" y="252.90" width="16" height="15.9" fill="#fe5656"/>
<rect x="77.52" y="252.90" width="16" height="15.9" fill="#fe5656"/>
<rect x="100.20" y="252.90" width="16" height="15.9" fill="#fe5656"/>
<rect x="122.89" y="252.90" width="16" height="15.9" fill="#fe5656"/>
<rect x="145.57" y="252.90" width="16" height="15.9" fill="#fec35f"/>
<rect x="168.26" y="252.90" width="16" height="15.9" fill="#fe5656"/>
<rect x="190.94" y="252.90" width="16" height="15.9" fill="#fe5656"/>
<rect x="213.63" y="252.90" width="16" height="15.9" fill="#fe5656"/>
<rect x="236.31" y="252.90" width="16" height="15.9" fill="#fec35f"/>
<rect x="259.00" y="252.90" width="16" height="15.9" fill="#fe5656"/>
<rect x="281.69" y="252.90" width="16" height="15.9" fill="#fe5656"/>
<rect x="304.37" y="252.90" width="16" height="15.9" fill="#fe5656"/>
<rect x="327.05" y="252.90" width="16" height="15.9" fill="#fe5656"/>
<rect x="349.74" y="252.90" width="16" height="15.9" fill="#fe5656"/>
<rect x="372.42" y="252.90" width="16" height="15.9" fill="#fe5656"/>
<rect x="395.11" y="252.90" width="16" height="15.9" fill="#fe5656"/>
<rect x="417.79" y="252.90" width="16" height="15.9" fill="#fe5656"/>
<rect x="440.48" y="252.90" width="16" height="15.9" fill="#fec35f"/>
<rect x="463.16" y="252.90" width="16" height="15.9" fill="#fe5656"/>
<rect x="485.85" y="252.90" width="16" height="15.9" fill="#fe5656"/>
<rect x="508.53" y="252.90" width="16" height="15.9" fill="#fe5656"/>
<rect x="531.22" y="252.90" width="16" height="15.9" fill="#fe5656"/>
<rect x="553.90" y="252.90" width="16" height="15.9" fill="#fe5656"/>
<rect x="576.59" y="252.90" width="16" height="15.9" fill="#fec35f"/>
<rect x="599.27" y="252.90" width="16" height="15.9" fill="#fe5656"/>
<rect x="621.96" y="252.90" width="16" height="15.9" fill="#fe5656"/>
<rect x="644.64" y="252.90" width="16" height="15.9" fill="#fe5656"/>
<rect x="667.33" y="252.90" width="16" height="15.9" fill="#fe5656"/>
<rect x="690.01" y="252.90" width="16" height="15.9" fill="#fe5656"/>
<rect x="712.70" y="252.90" width="16" height="15.9" fill="#fe5656"/>
<rect x="32.15" y="284.25" width="16" height="15.9" fill="#fe5656"/>
<rect x="54.83" y="284.25" width="16" height="15.9" fill="#fe5656"/>
<rect x="77.52" y="284.25" width="16" height="15.9" fill="#fe5656"/>
<rect x="100.20" y="284.25" width="16" height="15.9" fill="#fe5656"/>
<rect x="122.89" y="284.25" width="16" height="15.9" fill="#fe5656"/>
<rect x="145.57" y="284.25" width="16" height="15.9" fill="#fe5656"/>
<rect x="168.26" y="284.25" width="16" height="15.9" fill="#fe5656"/>
<rect x="190.94" y="284.25" width="16" height="15.9" fill="#fe5656"/>
<rect x="213.63" y="284.25" width="16" height="15.9" fill="#fe5656"/>
<rect x="236.31" y="284.25" width="16" height="15.9" fill="#fe5656"/>
<rect x="259.00" y="284.25" width="16" height="15.9" fill="#fe5656"/>
<rect x="281.69" y="284.25" width="16" height="15.9" fill="#fe5656"/>
<rect x="304.37" y="284.25" width="16" height="15.9" fill="#fec35f"/>
<rect x="327.05" y="284.25" width="16" height="15.9" fill="#fe5656"/>
<rect x="349.74" y="284.25" width="16" height="15.9" fill="#fe5656"/>
<rect x="372.42" y="284.25" width="16" height="15.9" fill="#fe5656"/>
<rect x="395.11" y="284.25" width="16" height="15.9" fill="#fe5656"/>
<rect x="417.79" y="284.25" width="16" height="15.9" fill="#fe5656"/>
<rect x="440.48" y="284.25" width="16" height="15.9" fill="#fe5656"/>
<rect x="463.16" y="284.25" width="16" height="15.9" fill="#fe5656"/>
<rect x="485.85" y="284.25" width="16" height="15.9" fill="#fec35f"/>
<rect x="508.53" y="284.25" width="16" height="15.9" fill="#fe5656"/>
<rect x="531.22" y="284.25" width="16" height="15.9" fill="#fe5656"/>
<rect x="553.90" y="284.25" width="16" height="15.9" fill="#fe5656"/>
<rect x="576.59" y="284.25" width="16" height="15.9" fill="#fe5656"/>
<rect x="599.27" y="284.25" width="16" height="15.9" fill="#fe5656"/>
<rect x="621.96" y="284.25" width="16" height="15.9" fill="#fe5656"/>
<rect x="644.64" y="284.25" width="16" height="15.9" fill="#fec35f"/>
<rect x="667.33" y="284.25" width="16" height="15.9" fill="#fe5656"/>
<rect x="690.01" y="284.25" width="16" height="15.9" fill="#fe5656"/>
<rect x="712.70" y="284.25" width="16" height="15.9" fill="#fe5656"/>
<rect x="32.15" y="315.60" width="16" height="15.9" fill="#fe5656"/>
<rect x="54.83" y="315.60" width="16" height="15.9" fill="#fec35f"/>
<rect x="77.52" y="315.60" width="16" height="15.9" fill="#fe5656"/>
<rect x="100.20" y="315.60" width="16" height="15.9" fill="#fe5656"/>
<rect x="122.89" y="315.60" width="16" height="15.9" fill="#fe5656"/>
<rect x="145.57" y="315.60" width="16" height="15.9" fill="#fe5656"/>
<rect x="168.26" y="315.60" width="16" height="15.9" fill="#fe5656"/>
<rect x="190.94" y="315.60" width="16" height="15.9" fill="#fec35f"/>
<rect x="213.63" y="315.60" width="16" height="15.9" fill="#fe5656"/>
<rect x="236.31" y="315.60" width="16" height="15.9" fill="#fe5656"/>
<rect x="259.00" y="315.60" width="16" height="15.9" fill="#fe5656"/>
<rect x="281.69" y="315.60" width="16" height="15.9" fill="#fe5656"/>
<rect x="304.37" y="315.60" width="16" height="15.9" fill="#fe5656"/>
<rect x="327.05" y="315.60" width="16" height="15.9" fill="#fe5656"/>
<rect x="349.74" y="315.60" width="16" height="15.9" fill="#fe5656"/>
<rect x="372.42" y="315.60" width="16" height="15.9" fill="#fe5656"/>
<rect x="395.11" y="315.60" width="16" height="15.9" fill="#fe5656"/>
<rect x="417.79" y="315.60" width="16" height="15.9" fill="#fec35f"/>
<rect x="440.48" y="315.60" width="16" height="15.9" fill="#fe5656"/>
<rect x="463.16" y="315.60" width="16" height="15.9" fill="#fe5656"/>
<rect x="485.85" y="315.60" width="16" height="15.9" fill="#fe5656"/>
<rect x="508.53" y="315.60" width="16" height="15.9" fill="#fe5656"/>
<rect x="531.22" y="315.60" width="16" height="15.9" fill="#fec35f"/>
<rect x="553.90" y="315.60" width="16" height="15.9" fill="#fe5656"/>
<rect x="576.59" y="315.60" width="16" height="15.9" fill="#fe5656"/>
<rect x="599.27" y="315.60" width="16" height="15.9" fill="#fe5656"/>
<rect x="621.96" y="315.60" width="16" height="15.9" fill="#fe5656"/>
<rect x="644.64" y="315.60" width="16" height="15.9" fill="#fe5656"/>
<rect x="667.33" y="315.60" width="16" height="15.9" fill="#fe5656"/>
<rect x="690.01" y="315.60" width="16" height="15.9" fill="#fe5656"/>
<rect x="712.70" y="315.60" width="16" height="15.9" fill="#fe5656"/>
<rect x="32.15" y="346.95" width="16" height="15.9" fill="#fe5656"/>
<rect x="54.83" y="346.95" width="16" height="15.9" fill="#fe5656"/>
<rect x="77.52" y="346.95" width="16" height="15.9" fill="#fe5656"/>
<rect x="100.20" y="346.95" width="16" height="15.9" fill="#fe5656"/>
<rect x="122.89" y="346.95" width="16" height="15.9" fill="#fe5656"/>
<rect x="145.57" y="346.95" width="16" height="15.9" fill="#fe5656"/>
<rect x="168.26" y="346.95" width="16" height="15.9" fill="#fe5656"/>
<rect x="190.94" y="346.95" width="16" height="15.9" fill="#fe5656"/>
<rect x="213.63" y="346.95" width="16" height="15.9" fill="#fe5656"/>
<rect x="236.31" y="346.95" width="16" height="15.9" fill="#fe5656"/>
<rect x="259.00" y="346.95" width="16" height="15.9" fill="#fe5656"/>
<rect x="281.69" y="346.95" width="16" height="15.9" fill="#fec35f"/>
<rect x="304.37" y="346.95" width="16" height="15.9" fill="#fe5656"/>
<rect x="327.05" y="346.95" width="16" height="15.9" fill="#fe5656"/>
<circle cx="358.29" cy="354.90" r="9.6" fill="#00c8fd"/>
<circle cx="380.97" cy="354.90" r="9.6" fill="#00c8fd"/>
<rect x="395.11" y="346.95" width="16" height="15.9" fill="#fe5656"/>
<rect x="417.79" y="346.95" width="16" height="15.9" fill="#fe5656"/>
<rect x="440.48" y="346.95" width="16" height="15.9" fill="#fe5656"/>
<rect x="463.16" y="346.95" width="16" height="15.9" fill="#fe5656"/>
<rect x="485.85" y="346.95" width="16" height="15.9" fill="#fe5656"/>
<rect x="508.53" y="346.95" width="16" height="15.9" fill="#fe5656"/>
<rect x="531.22" y="346.95" width="16" height="15.9" fill="#fe5656"/>
<rect x="553.90" y="346.95" width="16" height="15.9" fill="#fe5656"/>
<rect x="576.59" y="346.95" width="16" height="15.9" fill="#fe5656"/>
<rect x="599.27" y="346.95" width="16" height="15.9" fill="#fe5656"/>
<rect x="621.96" y="346.95" width="16" height="15.9" fill="#fe5656"/>
<rect x="644.64" y="346.95" width="16" height="15.9" fill="#fe5656"/>
<rect x="667.33" y="346.95" width="16" height="15.9" fill="#fe5656"/>
<rect x="690.01" y="346.95" width="16" height="15.9" fill="#fe5656"/>
<rect x="712.70" y="346.95" width="16" height="15.9" fill="#fec35f"/>
<circle cx="40.70" cy="386.25" r="9.6" fill="#00c8fd"/>
<rect x="54.83" y="378.30" width="16" height="15.9" fill="#fe5656"/>
<rect x="77.52" y="378.30" width="16" height="15.9" fill="#fe5656"/>
<rect x="100.20" y="378.30" width="16" height="15.9" fill="#fe5656"/>
<rect x="122.89" y="378.30" width="16" height="15.9" fill="#fe5656"/>
<rect x="145.57" y="378.30" width="16" height="15.9" fill="#fec35f"/>
<rect x="168.26" y="378.30" width="16" height="15.9" fill="#fe5656"/>
<rect x="190.94" y="378.30" width="16" height="15.9" fill="#fe5656"/>
<rect x="213.63" y="378.30" width="16" height="15.9" fill="#fe5656"/>
<rect x="236.31" y="378.30" width="16" height="15.9" fill="#fe5656"/>
<circle cx="267.55" cy="386.25" r="9.6" fill="#00c8fd"/>
<circle cx="290.24" cy="386.25" r="9.6" fill="#00c8fd"/>
<circle cx="312.92" cy="386.25" r="9.6" fill="#00c8fd"/>
<circle cx="335.60" cy="386.25" r="9.6" fill="#00c8fd"/>
<circle cx="358.29" cy="386.25" r="9.6" fill="#00c8fd"/>
<circle cx="380.97" cy="386.25" r="9.6" fill="#00c8fd"/>
<circle cx="403.66" cy="386.25" r="9.6" fill="#00c8fd"/>
<circle cx="426.34" cy="386.25" r="9.6" fill="#00c8fd"/>
<circle cx="449.03" cy="386.25" r="9.6" fill="#00c8fd"/>
<circle cx="471.71" cy="386.25" r="9.6" fill="#00c8fd"/>
<circle cx="494.40" cy="386.25" r="9.6" fill="#00c8fd"/>
<rect x="508.53" y="378.30" width="16" height="15.9" fill="#fe5656"/>
<rect x="531.22" y="378.30" width="16" height="15.9" fill="#fec35f"/>
<rect x="553.90" y="378.30" width="16" height="15.9" fill="#fe5656"/>
<rect x="576.59" y="378.30" width="16" height="15.9" fill="#fe5656"/>
<rect x="599.27" y="378.30" width="16" height="15.9" fill="#fe5656"/>
<rect x="621.96" y="378.30" width="16" height="15.9" fill="#fe5656"/>
<rect x="644.64" y="378.30" width="16" height="15.9" fill="#fec35f"/>
<rect x="667.33" y="378.30" width="16" height="15.9" fill="#fe5656"/>
<rect x="690.01" y="378.30" width="16" height="15.9" fill="#fe5656"/>
<rect x="712.70" y="378.30" width="16" height="15.9" fill="#fe5656"/>
<circle cx="40.70" cy="417.60" r="9.6" fill="#00c8fd"/>
<circle cx="63.38" cy="417.60" r="9.6" fill="#00c8fd"/>
<circle cx="86.07" cy="417.60" r="9.6" fill="#00c8fd"/>
<circle cx="108.75" cy="417.60" r="9.6" fill="#00c8fd"/>
<rect x="122.89" y="409.65" width="16" height="15.9" fill="#fe5656"/>
<rect x="145.57" y="409.65" width="16" height="15.9" fill="#fec35f"/>
<circle cx="176.81" cy="417.60" r="9.6" fill="#00c8fd"/>
<circle cx="199.50" cy="417.60" r="9.6" fill="#00c8fd"/>
<circle cx="222.18" cy="417.60" r="9.6" fill="#00c8fd"/>
<circle cx="244.87" cy="417.60" r="9.6" fill="#00c8fd"/>
<circle cx="267.55" cy="417.60" r="9.6" fill="#00c8fd"/>
<circle cx="290.24" cy="417.60" r="9.6" fill="#00c8fd"/>
<circle cx="312.92" cy="417.60" r="9.6" fill="#00c8fd"/>
<circle cx="335.60" cy="417.60" r="9.6" fill="#00c8fd"/>
<circle cx="358.29" cy="417.60" r="9.6" fill="#00c8fd"/>
<circle cx="380.97" cy="417.60" r="9.6" fill="#00c8fd"/>
<circle cx="403.66" cy="417.60" r="9.6" fill="#00c8fd"/>
<circle cx="426.34" cy="417.60" r="9.6" fill="#00c8fd"/>
<circle cx="449.03" cy="417.60" r="9.6" fill="#00c8fd"/>
<circle cx="471.71" cy="417.60" r="9.6" fill="#00c8fd"/>
<circle cx="494.40" cy="417.60" r="9.6" fill="#00c8fd"/>
<circle cx="517.08" cy="417.60" r="9.6" fill="#00c8fd"/>
<circle cx="539.77" cy="417.60" r="9.6" fill="#00c8fd"/>
<circle cx="562.45" cy="417.60" r="9.6" fill="#00c8fd"/>
<circle cx="585.14" cy="417.60" r="9.6" fill="#00c8fd"/>
<circle cx="607.82" cy="417.60" r="9.6" fill="#00c8fd"/>
<rect x="621.96" y="409.65" width="16" height="15.9" fill="#fe5656"/>
<rect x="644.64" y="409.65" width="16" height="15.9" fill="#fe5656"/>
<circle cx="675.88" cy="417.60" r="9.6" fill="#00c8fd"/>
<circle cx="698.56" cy="417.60" r="9.6" fill="#00c8fd"/>
<circle cx="721.25" cy="417.60" r="9.6" fill="#00c8fd"/>
<circle cx="40.70" cy="448.95" r="9.6" fill="#00c8fd"/>
<circle cx="63.38" cy="448.95" r="9.6" fill="#00c8fd"/>
<circle cx="86.07" cy="448.95" r="9.6" fill="#00c8fd"/>
<circle cx="108.75" cy="448.95" r="9.6" fill="#00c8fd"/>
<circle cx="131.44" cy="448.95" r="9.6" fill="#00c8fd"/>
<circle cx="154.12" cy="448.95" r="9.6" fill="#00c8fd"/>
<circle cx="176.81" cy="448.95" r="9.6" fill="#00c8fd"/>
<circle cx="199.50" cy="448.95" r="9.6" fill="#00c8fd"/>
<circle cx="222.18" cy="448.95" r="9.6" fill="#00c8fd"/>
<circle cx="244.87" cy="448.95" r="9.6" fill="#00c8fd"/>
<circle cx="267.55" cy="448.95" r="9.6" fill="#00c8fd"/>
<circle cx="290.24" cy="448.95" r="9.6" fill="#00c8fd"/>
<circle cx="312.92" cy="448.95" r="9.6" fill="#00c8fd"/>
<circle cx="335.60" cy="448.95" r="9.6" fill="#00c8fd"/>
<circle cx="358.29" cy="448.95" r="9.6" fill="#00c8fd"/>
<circle cx="380.97" cy="448.95" r="9.6" fill="#00c8fd"/>
<circle cx="403.66" cy="448.95" r="9.6" fill="#00c8fd"/>
<circle cx="426.34" cy="448.95" r="9.6" fill="#00c8fd"/>
<circle cx="449.03" cy="448.95" r="9.6" fill="#00c8fd"/>
<circle cx="471.71" cy="448.95" r="9.6" fill="#00c8fd"/>
<circle cx="494.40" cy="448.95" r="9.6" fill="#00c8fd"/>
<circle cx="517.08" cy="448.95" r="9.6" fill="#00c8fd"/>
<circle cx="539.77" cy="448.95" r="9.6" fill="#00c8fd"/>
<circle cx="562.45" cy="448.95" r="9.6" fill="#00c8fd"/>
<circle cx="585.14" cy="448.95" r="9.6" fill="#00c8fd"/>
<circle cx="607.82" cy="448.95" r="9.6" fill="#00c8fd"/>
<circle cx="630.51" cy="448.95" r="9.6" fill="#00c8fd"/>
<circle cx="653.19" cy="448.95" r="9.6" fill="#00c8fd"/>
<circle cx="675.88" cy="448.95" r="9.6" fill="#00c8fd"/>
<circle cx="698.56" cy="448.95" r="9.6" fill="#00c8fd"/>
<circle cx="721.25" cy="448.95" r="9.6" fill="#00c8fd"/>
<circle cx="40.70" cy="480.30" r="9.6" fill="#00c8fd"/>
<circle cx="63.38" cy="480.30" r="9.6" fill="#00c8fd"/>
<circle cx="86.07" cy="480.30" r="9.6" fill="#00c8fd"/>
<circle cx="108.75" cy="480.30" r="9.6" fill="#00c8fd"/>
<circle cx="131.44" cy="480.30" r="9.6" fill="#00c8fd"/>
<circle cx="154.12" cy="480.30" r="9.6" fill="#00c8fd"/>
<circle cx="176.81" cy="480.30" r="9.6" fill="#00c8fd"/>
<circle cx="199.50" cy="480.30" r="9.6" fill="#00c8fd"/>
<circle cx="222.18" cy="480.30" r="9.6" fill="#00c8fd"/>
<circle cx="244.87" cy="480.30" r="9.6" fill="#00c8fd"/>
<circle cx="267.55" cy="480.30" r="9.6" fill="#00c8fd"/>
<circle cx="290.24" cy="480.30" r="9.6" fill="#00c8fd"/>
<circle cx="312.92" cy="480.30" r="9.6" fill="#00c8fd"/>
<circle cx="335.60" cy="480.30" r="9.6" fill="#00c8fd"/>
<circle cx="358.29" cy="480.30" r="9.6" fill="#00c8fd"/>
<circle cx="380.97" cy="480.30" r="9.6" fill="#00c8fd"/>
<circle cx="403.66" cy="480.30" r="9.6" fill="#00c8fd"/>
<circle cx="426.34" cy="480.30" r="9.6" fill="#00c8fd"/>
<circle cx="449.03" cy="480.30" r="9.6" fill="#00c8fd"/>
<circle cx="471.71" cy="480.30" r="9.6" fill="#00c8fd"/>
<circle cx="494.40" cy="480.30" r="9.6" fill="#00c8fd"/>
<circle cx="517.08" cy="480.30" r="9.6" fill="#00c8fd"/>
<circle cx="539.77" cy="480.30" r="9.6" fill="#00c8fd"/>
<circle cx="562.45" cy="480.30" r="9.6" fill="#00c8fd"/>
<circle cx="585.14" cy="480.30" r="9.6" fill="#00c8fd"/>
<circle cx="607.82" cy="480.30" r="9.6" fill="#00c8fd"/>
<circle cx="630.51" cy="480.30" r="9.6" fill="#00c8fd"/>
<circle cx="653.19" cy="480.30" r="9.6" fill="#00c8fd"/>
<circle cx="675.88" cy="480.30" r="9.6" fill="#00c8fd"/>
<circle cx="698.56" cy="480.30" r="9.6" fill="#00c8fd"/>
<circle cx="721.25" cy="480.30" r="9.6" fill="#00c8fd"/>
<circle cx="40.70" cy="511.65" r="9.6" fill="#00c8fd"/>
<circle cx="63.38" cy="511.65" r="9.6" fill="#00c8fd"/>
<circle cx="86.07" cy="511.65" r="9.6" fill="#00c8fd"/>
<circle cx="108.75" cy="511.65" r="9.6" fill="#00c8fd"/>
<circle cx="131.44" cy="511.65" r="9.6" fill="#00c8fd"/>
<circle cx="154.12" cy="511.65" r="9.6" fill="#00c8fd"/>
<circle cx="176.81" cy="511.65" r="9.6" fill="#00c8fd"/>
<circle cx="199.50" cy="511.65" r="9.6" fill="#00c8fd"/>
<circle cx="222.18" cy="511.65" r="9.6" fill="#00c8fd"/>
<circle cx="244.87" cy="511.65" r="9.6" fill="#00c8fd"/>
<circle cx="267.55" cy="511.65" r="9.6" fill="#00c8fd"/>
<circle cx="290.24" cy="511.65" r="9.6" fill="#00c8fd"/>
<circle cx="312.92" cy="511.65" r="9.6" fill="#00c8fd"/>
<circle cx="335.60" cy="511.65" r="9.6" fill="#00c8fd"/>
<circle cx="358.29" cy="511.65" r="9.6" fill="#00c8fd"/>
<circle cx="380.97" cy="511.65" r="9.6" fill="#00c8fd"/>
<circle cx="403.66" cy="511.65" r="9.6" fill="#00c8fd"/>
<circle cx="426.34" cy="511.65" r="9.6" fill="#00c8fd"/>
<circle cx="449.03" cy="511.65" r="9.6" fill="#00c8fd"/>
<circle cx="471.71" cy="511.65" r="9.6" fill="#00c8fd"/>
<circle cx="494.40" cy="511.65" r="9.6" fill="#00c8fd"/>
<circle cx="517.08" cy="511.65" r="9.6" fill="#00c8fd"/>
<circle cx="539.77" cy="511.65" r="9.6" fill="#00c8fd"/>
<circle cx="562.45" cy="511.65" r="9.6" fill="#00c8fd"/>
<circle cx="585.14" cy="511.65" r="9.6" fill="#00c8fd"/>
<circle cx="607.82" cy="511.65" r="9.6" fill="#00c8fd"/>
<circle cx="630.51" cy="511.65" r="9.6" fill="#00c8fd"/>
<circle cx="653.19" cy="511.65" r="9.6" fill="#00c8fd"/>
<circle cx="675.88" cy="511.65" r="9.6" fill="#00c8fd"/>
<circle cx="698.56" cy="511.65" r="9.6" fill="#00c8fd"/>
<circle cx="721.25" cy="511.65" r="9.6" fill="#00c8fd"/>
<polyline points="31,365.8 39.7,365.8 57.1,400.7 105.6,400.7 128.4,430.5 153,430.5 176.3,400.7 248.5,400.5 261.1,366.9 337.9,366.9 353.4,340.3 385.1,340.3 399.9,366.9 493.8,367.1 513.9,401.6 608.2,401.6 624.3,428.3 656.3,428.3 669.8,401.6 728.9,401.6" fill="none" stroke="#000" stroke-width="2"/>
<line x1="19.4" y1="363.9" x2="19.4" y2="386.3" stroke="#000" stroke-width="2"/><polygon points="19.4,357.5 15.099999999999998,364.9 23.7,364.9" fill="#000"/><polygon points="19.4,392.7 15.099999999999998,385.3 23.7,385.3" fill="#000"/>
<line x1="741.4" y1="359.3" x2="741.4" y2="436.0" stroke="#000" stroke-width="2"/><polygon points="741.4,351.6 736.1,360.3 746.6999999999999,360.3" fill="#000"/><polygon points="741.4,443.7 736.1,435.0 746.6999999999999,435.0" fill="#000"/>
<line x1="383.3" y1="537.6" x2="636.6999999999999" y2="537.6" stroke="#000" stroke-width="2"/><polygon points="375.6,537.6 384.3,532.3000000000001 384.3,542.9" fill="#000"/><polygon points="644.4,537.6 635.6999999999999,532.3000000000001 635.6999999999999,542.9" fill="#000"/>
<text x="-1.78" y="384.80" font-size="28.5" fill="#000" font-style="italic" textLength="12.43" lengthAdjust="spacingAndGlyphs">δ</text>
<text x="751.03" y="403.00" font-size="29.8" fill="#000" font-style="italic" textLength="17.64" lengthAdjust="spacingAndGlyphs">h</text>
<text x="495.82" y="569.00" font-size="30" fill="#000" font-style="italic" textLength="14.52" lengthAdjust="spacingAndGlyphs">λ</text>
<line x1="854.50" y1="468.4" x2="854.50" y2="459.9" stroke="#6c6c6c" stroke-width="1.2"/>
<line x1="854.50" y1="36.5" x2="854.50" y2="45.0" stroke="#6c6c6c" stroke-width="1.2"/>
<line x1="885.30" y1="468.4" x2="885.30" y2="464.09999999999997" stroke="#6c6c6c" stroke-width="1.2"/>
<line x1="885.30" y1="36.5" x2="885.30" y2="40.8" stroke="#6c6c6c" stroke-width="1.2"/>
<line x1="916.10" y1="468.4" x2="916.10" y2="459.9" stroke="#6c6c6c" stroke-width="1.2"/>
<line x1="916.10" y1="36.5" x2="916.10" y2="45.0" stroke="#6c6c6c" stroke-width="1.2"/>
<line x1="946.90" y1="468.4" x2="946.90" y2="464.09999999999997" stroke="#6c6c6c" stroke-width="1.2"/>
<line x1="946.90" y1="36.5" x2="946.90" y2="40.8" stroke="#6c6c6c" stroke-width="1.2"/>
<line x1="977.70" y1="468.4" x2="977.70" y2="459.9" stroke="#6c6c6c" stroke-width="1.2"/>
<line x1="977.70" y1="36.5" x2="977.70" y2="45.0" stroke="#6c6c6c" stroke-width="1.2"/>
<line x1="1008.50" y1="468.4" x2="1008.50" y2="464.09999999999997" stroke="#6c6c6c" stroke-width="1.2"/>
<line x1="1008.50" y1="36.5" x2="1008.50" y2="40.8" stroke="#6c6c6c" stroke-width="1.2"/>
<line x1="1039.30" y1="468.4" x2="1039.30" y2="459.9" stroke="#6c6c6c" stroke-width="1.2"/>
<line x1="1039.30" y1="36.5" x2="1039.30" y2="45.0" stroke="#6c6c6c" stroke-width="1.2"/>
<line x1="1070.10" y1="468.4" x2="1070.10" y2="464.09999999999997" stroke="#6c6c6c" stroke-width="1.2"/>
<line x1="1070.10" y1="36.5" x2="1070.10" y2="40.8" stroke="#6c6c6c" stroke-width="1.2"/>
<line x1="1100.90" y1="468.4" x2="1100.90" y2="459.9" stroke="#6c6c6c" stroke-width="1.2"/>
<line x1="1100.90" y1="36.5" x2="1100.90" y2="45.0" stroke="#6c6c6c" stroke-width="1.2"/>
<line x1="1131.70" y1="468.4" x2="1131.70" y2="464.09999999999997" stroke="#6c6c6c" stroke-width="1.2"/>
<line x1="1131.70" y1="36.5" x2="1131.70" y2="40.8" stroke="#6c6c6c" stroke-width="1.2"/>
<line x1="1162.50" y1="468.4" x2="1162.50" y2="459.9" stroke="#6c6c6c" stroke-width="1.2"/>
<line x1="1162.50" y1="36.5" x2="1162.50" y2="45.0" stroke="#6c6c6c" stroke-width="1.2"/>
<line x1="854.5" y1="468.40" x2="863.0" y2="468.40" stroke="#6c6c6c" stroke-width="1.2"/>
<line x1="1162.5" y1="468.40" x2="1154.0" y2="468.40" stroke="#6c6c6c" stroke-width="1.2"/>
<line x1="854.5" y1="425.21" x2="859.0" y2="425.21" stroke="#6c6c6c" stroke-width="1.2"/>
<line x1="1162.5" y1="425.21" x2="1158.0" y2="425.21" stroke="#6c6c6c" stroke-width="1.2"/>
<line x1="854.5" y1="382.02" x2="863.0" y2="382.02" stroke="#6c6c6c" stroke-width="1.2"/>
<line x1="1162.5" y1="382.02" x2="1154.0" y2="382.02" stroke="#6c6c6c" stroke-width="1.2"/>
<line x1="854.5" y1="338.83" x2="859.0" y2="338.83" stroke="#6c6c6c" stroke-width="1.2"/>
<line x1="1162.5" y1="338.83" x2="1158.0" y2="338.83" stroke="#6c6c6c" stroke-width="1.2"/>
<line x1="854.5" y1="295.64" x2="863.0" y2="295.64" stroke="#6c6c6c" stroke-width="1.2"/>
<line x1="1162.5" y1="295.64" x2="1154.0" y2="295.64" stroke="#6c6c6c" stroke-width="1.2"/>
<line x1="854.5" y1="252.45" x2="859.0" y2="252.45" stroke="#6c6c6c" stroke-width="1.2"/>
<line x1="1162.5" y1="252.45" x2="1158.0" y2="252.45" stroke="#6c6c6c" stroke-width="1.2"/>
<line x1="854.5" y1="209.26" x2="863.0" y2="209.26" stroke="#6c6c6c" stroke-width="1.2"/>
<line x1="1162.5" y1="209.26" x2="1154.0" y2="209.26" stroke="#6c6c6c" stroke-width="1.2"/>
<line x1="854.5" y1="166.07" x2="859.0" y2="166.07" stroke="#6c6c6c" stroke-width="1.2"/>
<line x1="1162.5" y1="166.07" x2="1158.0" y2="166.07" stroke="#6c6c6c" stroke-width="1.2"/>
<line x1="854.5" y1="122.88" x2="863.0" y2="122.88" stroke="#6c6c6c" stroke-width="1.2"/>
<line x1="1162.5" y1="122.88" x2="1154.0" y2="122.88" stroke="#6c6c6c" stroke-width="1.2"/>
<line x1="854.5" y1="79.69" x2="859.0" y2="79.69" stroke="#6c6c6c" stroke-width="1.2"/>
<line x1="1162.5" y1="79.69" x2="1158.0" y2="79.69" stroke="#6c6c6c" stroke-width="1.2"/>
<line x1="854.5" y1="36.50" x2="863.0" y2="36.50" stroke="#6c6c6c" stroke-width="1.2"/>
<line x1="1162.5" y1="36.50" x2="1154.0" y2="36.50" stroke="#6c6c6c" stroke-width="1.2"/>
<rect x="854.5" y="36.5" width="308.0" height="431.9" fill="none" stroke="#6c6c6c" stroke-width="1.15"/>
<line x1="1173.50" y1="468.4" x2="1173.50" y2="459.9" stroke="#6c6c6c" stroke-width="1.2"/>
<line x1="1173.50" y1="36.5" x2="1173.50" y2="45.0" stroke="#6c6c6c" stroke-width="1.2"/>
<line x1="1204.30" y1="468.4" x2="1204.30" y2="464.09999999999997" stroke="#6c6c6c" stroke-width="1.2"/>
<line x1="1204.30" y1="36.5" x2="1204.30" y2="40.8" stroke="#6c6c6c" stroke-width="1.2"/>
<line x1="1235.10" y1="468.4" x2="1235.10" y2="459.9" stroke="#6c6c6c" stroke-width="1.2"/>
<line x1="1235.10" y1="36.5" x2="1235.10" y2="45.0" stroke="#6c6c6c" stroke-width="1.2"/>
<line x1="1265.90" y1="468.4" x2="1265.90" y2="464.09999999999997" stroke="#6c6c6c" stroke-width="1.2"/>
<line x1="1265.90" y1="36.5" x2="1265.90" y2="40.8" stroke="#6c6c6c" stroke-width="1.2"/>
<line x1="1296.70" y1="468.4" x2="1296.70" y2="459.9" stroke="#6c6c6c" stroke-width="1.2"/>
<line x1="1296.70" y1="36.5" x2="1296.70" y2="45.0" stroke="#6c6c6c" stroke-width="1.2"/>
<line x1="1327.50" y1="468.4" x2="1327.50" y2="464.09999999999997" stroke="#6c6c6c" stroke-width="1.2"/>
<line x1="1327.50" y1="36.5" x2="1327.50" y2="40.8" stroke="#6c6c6c" stroke-width="1.2"/>
<line x1="1358.30" y1="468.4" x2="1358.30" y2="459.9" stroke="#6c6c6c" stroke-width="1.2"/>
<line x1="1358.30" y1="36.5" x2="1358.30" y2="45.0" stroke="#6c6c6c" stroke-width="1.2"/>
<line x1="1389.10" y1="468.4" x2="1389.10" y2="464.09999999999997" stroke="#6c6c6c" stroke-width="1.2"/>
<line x1="1389.10" y1="36.5" x2="1389.10" y2="40.8" stroke="#6c6c6c" stroke-width="1.2"/>
<line x1="1419.90" y1="468.4" x2="1419.90" y2="459.9" stroke="#6c6c6c" stroke-width="1.2"/>
<line x1="1419.90" y1="36.5" x2="1419.90" y2="45.0" stroke="#6c6c6c" stroke-width="1.2"/>
<line x1="1450.70" y1="468.4" x2="1450.70" y2="464.09999999999997" stroke="#6c6c6c" stroke-width="1.2"/>
<line x1="1450.70" y1="36.5" x2="1450.70" y2="40.8" stroke="#6c6c6c" stroke-width="1.2"/>
<line x1="1481.50" y1="468.4" x2="1481.50" y2="459.9" stroke="#6c6c6c" stroke-width="1.2"/>
<line x1="1481.50" y1="36.5" x2="1481.50" y2="45.0" stroke="#6c6c6c" stroke-width="1.2"/>
<line x1="1173.5" y1="468.40" x2="1182.0" y2="468.40" stroke="#6c6c6c" stroke-width="1.2"/>
<line x1="1481.5" y1="468.40" x2="1473.0" y2="468.40" stroke="#6c6c6c" stroke-width="1.2"/>
<line x1="1173.5" y1="425.21" x2="1178.0" y2="425.21" stroke="#6c6c6c" stroke-width="1.2"/>
<line x1="1481.5" y1="425.21" x2="1477.0" y2="425.21" stroke="#6c6c6c" stroke-width="1.2"/>
<line x1="1173.5" y1="382.02" x2="1182.0" y2="382.02" stroke="#6c6c6c" stroke-width="1.2"/>
<line x1="1481.5" y1="382.02" x2="1473.0" y2="382.02" stroke="#6c6c6c" stroke-width="1.2"/>
<line x1="1173.5" y1="338.83" x2="1178.0" y2="338.83" stroke="#6c6c6c" stroke-width="1.2"/>
<line x1="1481.5" y1="338.83" x2="1477.0" y2="338.83" stroke="#6c6c6c" stroke-width="1.2"/>
<line x1="1173.5" y1="295.64" x2="1182.0" y2="295.64" stroke="#6c6c6c" stroke-width="1.2"/>
<line x1="1481.5" y1="295.64" x2="1473.0" y2="295.64" stroke="#6c6c6c" stroke-width="1.2"/>
<line x1="1173.5" y1="252.45" x2="1178.0" y2="252.45" stroke="#6c6c6c" stroke-width="1.2"/>
<line x1="1481.5" y1="252.45" x2="1477.0" y2="252.45" stroke="#6c6c6c" stroke-width="1.2"/>
<line x1="1173.5" y1="209.26" x2="1182.0" y2="209.26" stroke="#6c6c6c" stroke-width="1.2"/>
<line x1="1481.5" y1="209.26" x2="1473.0" y2="209.26" stroke="#6c6c6c" stroke-width="1.2"/>
<line x1="1173.5" y1="166.07" x2="1178.0" y2="166.07" stroke="#6c6c6c" stroke-width="1.2"/>
<line x1="1481.5" y1="166.07" x2="1477.0" y2="166.07" stroke="#6c6c6c" stroke-width="1.2"/>
<line x1="1173.5" y1="122.88" x2="1182.0" y2="122.88" stroke="#6c6c6c" stroke-width="1.2"/>
<line x1="1481.5" y1="122.88" x2="1473.0" y2="122.88" stroke="#6c6c6c" stroke-width="1.2"/>
<line x1="1173.5" y1="79.69" x2="1178.0" y2="79.69" stroke="#6c6c6c" stroke-width="1.2"/>
<line x1="1481.5" y1="79.69" x2="1477.0" y2="79.69" stroke="#6c6c6c" stroke-width="1.2"/>
<line x1="1173.5" y1="36.50" x2="1182.0" y2="36.50" stroke="#6c6c6c" stroke-width="1.2"/>
<line x1="1481.5" y1="36.50" x2="1473.0" y2="36.50" stroke="#6c6c6c" stroke-width="1.2"/>
<rect x="1173.5" y="36.5" width="308.0" height="431.9" fill="none" stroke="#6c6c6c" stroke-width="1.15"/>
<text x="836.00" y="476.20" font-size="32" fill="#000" text-anchor="end">0.0</text>
<text x="836.00" y="389.82" font-size="32" fill="#000" text-anchor="end">0.5</text>
<text x="836.00" y="303.44" font-size="32" fill="#000" text-anchor="end">1.0</text>
<text x="836.00" y="217.06" font-size="32" fill="#000" text-anchor="end">1.5</text>
<text x="836.00" y="130.68" font-size="32" fill="#000" text-anchor="end">2.0</text>
<text x="836.00" y="44.30" font-size="32" fill="#000" text-anchor="end">2.5</text>
<text x="854.30" y="508.20" font-size="32" fill="#000" text-anchor="middle">0.0</text>
<text x="915.90" y="508.20" font-size="32" fill="#000" text-anchor="middle">0.2</text>
<text x="977.50" y="508.20" font-size="32" fill="#000" text-anchor="middle">0.4</text>
<text x="1039.10" y="508.20" font-size="32" fill="#000" text-anchor="middle">0.6</text>
<text x="1100.70" y="508.20" font-size="32" fill="#000" text-anchor="middle">0.8</text>
<text x="1162.30" y="508.20" font-size="32" fill="#000" text-anchor="middle">1.0</text>
<text x="1234.90" y="508.20" font-size="32" fill="#000" text-anchor="middle">0.2</text>
<text x="1296.50" y="508.20" font-size="32" fill="#000" text-anchor="middle">0.4</text>
<text x="1358.10" y="508.20" font-size="32" fill="#000" text-anchor="middle">0.6</text>
<text x="1419.70" y="508.20" font-size="32" fill="#000" text-anchor="middle">0.8</text>
<text x="1481.30" y="508.20" font-size="32" fill="#000" text-anchor="middle">1.0</text>
<text x="1001.68" y="554.20" font-size="30.5" fill="#000" font-style="italic" textLength="14.67" lengthAdjust="spacingAndGlyphs">c</text>
<text x="1320.68" y="554.20" font-size="30.5" fill="#000" font-style="italic" textLength="14.67" lengthAdjust="spacingAndGlyphs">c</text>
<text x="885.53" y="441.80" font-size="33.3" fill="#000" textLength="14.95" lengthAdjust="spacingAndGlyphs">F</text>
<text x="905.53" y="449.70" font-size="23" fill="#000" textLength="12.05" lengthAdjust="spacingAndGlyphs">4</text>
<text x="905.35" y="435.22" font-size="24" fill="#000" textLength="11.78" lengthAdjust="spacingAndGlyphs">*</text>
<text x="918.69" y="441.80" font-size="33.3" fill="#000" textLength="70.94" lengthAdjust="spacingAndGlyphs">ZnPc</text>
<text x="1204.20" y="441.80" font-size="33.3" fill="#000" textLength="15.40" lengthAdjust="spacingAndGlyphs">F</text>
<text x="1224.33" y="446.60" font-size="22.8" fill="#000" textLength="12.05" lengthAdjust="spacingAndGlyphs">4</text>
<text x="1237.79" y="441.80" font-size="33.3" fill="#000" textLength="71.15" lengthAdjust="spacingAndGlyphs">ZnPc</text>
<polyline points="857.3,230.8 931.3,236.8 1008.5,245.1 1085.7,249.2 1159.7,260.0" fill="none" stroke="#0000ff" stroke-width="1.6"/>
<circle cx="857.3" cy="230.8" r="6.1" fill="#0000ff"/>
<circle cx="931.3" cy="236.8" r="6.1" fill="#0000ff"/>
<circle cx="1008.5" cy="245.1" r="6.1" fill="#0000ff"/>
<circle cx="1085.7" cy="249.2" r="6.1" fill="#0000ff"/>
<circle cx="1159.7" cy="260.0" r="6.1" fill="#0000ff"/>
<polyline points="854.4,253.7 959.0,264.6 1008.5,268.8 1061.0,273.6 1085.5,273.2 1162.3,282.4" fill="none" stroke="#333333" stroke-width="1.6"/>
<polygon points="854.4,244.6 863.5,253.7 854.4,262.8 845.3,253.7" fill="#333333"/>
<polygon points="959.0,255.50000000000003 968.1,264.6 959.0,273.70000000000005 949.9,264.6" fill="#333333"/>
<polygon points="1008.5,259.7 1017.6,268.8 1008.5,277.90000000000003 999.4,268.8" fill="#333333"/>
<polygon points="1061.0,264.5 1070.1,273.6 1061.0,282.70000000000005 1051.9,273.6" fill="#333333"/>
<polygon points="1085.5,264.09999999999997 1094.6,273.2 1085.5,282.3 1076.4,273.2" fill="#333333"/>
<polygon points="1162.3,273.29999999999995 1171.3999999999999,282.4 1162.3,291.5 1153.2,282.4" fill="#333333"/>
<polyline points="854.2,349.1 857.5,342.3 931.5,360.6 1008.5,369.1 1085.6,372.4 1159.6,381.5 1162.7,401.8" fill="none" stroke="#ff0000" stroke-width="1.6"/>
<circle cx="854.2" cy="349.1" r="5.9" fill="none" stroke="#ff0000" stroke-width="1.5"/>
<circle cx="857.5" cy="342.3" r="5.9" fill="none" stroke="#ff0000" stroke-width="1.5"/>
<circle cx="931.5" cy="360.6" r="5.9" fill="none" stroke="#ff0000" stroke-width="1.5"/>
<circle cx="1008.5" cy="369.1" r="5.9" fill="none" stroke="#ff0000" stroke-width="1.5"/>
<circle cx="1085.6" cy="372.4" r="5.9" fill="none" stroke="#ff0000" stroke-width="1.5"/>
<circle cx="1159.6" cy="381.5" r="5.9" fill="none" stroke="#ff0000" stroke-width="1.5"/>
<circle cx="1162.7" cy="401.8" r="5.9" fill="none" stroke="#ff0000" stroke-width="1.5"/>
<polyline points="854.4,364.5 959.2,377.5 1008.5,380.8 1061.2,385.2 1085.6,385.5 1162.7,386.8" fill="none" stroke="#333333" stroke-width="1.6"/>
<polygon points="854.4,355.6 863.3,364.5 854.4,373.4 845.5,364.5" fill="none" stroke="#333333" stroke-width="1.7"/>
<polygon points="959.2,368.6 968.1,377.5 959.2,386.4 950.3000000000001,377.5" fill="none" stroke="#333333" stroke-width="1.7"/>
<polygon points="1008.5,371.90000000000003 1017.4,380.8 1008.5,389.7 999.6,380.8" fill="none" stroke="#333333" stroke-width="1.7"/>
<polygon points="1061.2,376.3 1070.1000000000001,385.2 1061.2,394.09999999999997 1052.3,385.2" fill="none" stroke="#333333" stroke-width="1.7"/>
<polygon points="1085.6,376.6 1094.5,385.5 1085.6,394.4 1076.6999999999998,385.5" fill="none" stroke="#333333" stroke-width="1.7"/>
<polygon points="1162.7,377.90000000000003 1171.6000000000001,386.8 1162.7,395.7 1153.8,386.8" fill="none" stroke="#333333" stroke-width="1.7"/>
<polyline points="1176.0,173.7 1250.1,190.4 1327.4,211.4 1404.5,231.3 1478.5,254.9" fill="none" stroke="#0000ff" stroke-width="1.6"/>
<circle cx="1176.0" cy="173.7" r="6.1" fill="#0000ff"/>
<circle cx="1250.1" cy="190.4" r="6.1" fill="#0000ff"/>
<circle cx="1327.4" cy="211.4" r="6.1" fill="#0000ff"/>
<circle cx="1404.5" cy="231.3" r="6.1" fill="#0000ff"/>
<circle cx="1478.5" cy="254.9" r="6.1" fill="#0000ff"/>
<polyline points="1173.5,211.5 1277.8,246.5 1327.4,263.5 1379.9,273.1 1404.5,276.6 1481.7,285.4" fill="none" stroke="#333333" stroke-width="1.6"/>
<polygon points="1173.5,202.4 1182.6,211.5 1173.5,220.6 1164.4,211.5" fill="#333333"/>
<polygon points="1277.8,237.4 1286.8999999999999,246.5 1277.8,255.6 1268.7,246.5" fill="#333333"/>
<polygon points="1327.4,254.4 1336.5,263.5 1327.4,272.6 1318.3000000000002,263.5" fill="#333333"/>
<polygon points="1379.9,264.0 1389.0,273.1 1379.9,282.20000000000005 1370.8000000000002,273.1" fill="#333333"/>
<polygon points="1404.5,267.5 1413.6,276.6 1404.5,285.70000000000005 1395.4,276.6" fill="#333333"/>
<polygon points="1481.7,276.29999999999995 1490.8,285.4 1481.7,294.5 1472.6000000000001,285.4" fill="#333333"/>
<polyline points="1176.2,284.5 1250.2,314.1 1327.3,335.5 1404.5,354.9 1478.5,376.7" fill="none" stroke="#ff0000" stroke-width="1.6"/>
<circle cx="1176.2" cy="284.5" r="5.9" fill="none" stroke="#ff0000" stroke-width="1.5"/>
<circle cx="1250.2" cy="314.1" r="5.9" fill="none" stroke="#ff0000" stroke-width="1.5"/>
<circle cx="1327.3" cy="335.5" r="5.9" fill="none" stroke="#ff0000" stroke-width="1.5"/>
<circle cx="1404.5" cy="354.9" r="5.9" fill="none" stroke="#ff0000" stroke-width="1.5"/>
<circle cx="1478.5" cy="376.7" r="5.9" fill="none" stroke="#ff0000" stroke-width="1.5"/>
<polyline points="1173.1,314.5 1278.3,352.9 1327.3,362.9 1379.9,376.0 1404.5,383.0 1481.7,398.0" fill="none" stroke="#333333" stroke-width="1.6"/>
<polygon points="1173.1,305.6 1182.0,314.5 1173.1,323.4 1164.1999999999998,314.5" fill="none" stroke="#333333" stroke-width="1.7"/>
<polygon points="1278.3,344.0 1287.2,352.9 1278.3,361.79999999999995 1269.3999999999999,352.9" fill="none" stroke="#333333" stroke-width="1.7"/>
<polygon points="1327.3,354.0 1336.2,362.9 1327.3,371.79999999999995 1318.3999999999999,362.9" fill="none" stroke="#333333" stroke-width="1.7"/>
<polygon points="1379.9,367.1 1388.8000000000002,376.0 1379.9,384.9 1371.0,376.0" fill="none" stroke="#333333" stroke-width="1.7"/>
<polygon points="1404.5,374.1 1413.4,383.0 1404.5,391.9 1395.6,383.0" fill="none" stroke="#333333" stroke-width="1.7"/>
<polygon points="1481.7,389.1 1490.6000000000001,398.0 1481.7,406.9 1472.8,398.0" fill="none" stroke="#333333" stroke-width="1.7"/>
<line x1="1040.1" y1="60.7" x2="1125.2" y2="60.7" stroke="#333333" stroke-width="1.6"/><polygon points="1082.7,51.6 1091.8,60.7 1082.7,69.8 1073.6000000000001,60.7" fill="#333333"/>
<line x1="1040.1" y1="92.2" x2="1125.2" y2="92.2" stroke="#333333" stroke-width="1.6"/><polygon points="1082.7,83.3 1091.6000000000001,92.2 1082.7,101.10000000000001 1073.8,92.2" fill="none" stroke="#333333" stroke-width="1.7"/>
<line x1="1360" y1="61" x2="1444" y2="61" stroke="#0000ff" stroke-width="1.6"/><circle cx="1401.6" cy="61" r="6.1" fill="#0000ff"/>
<line x1="1360" y1="92.6" x2="1444" y2="92.6" stroke="#ff0000" stroke-width="1.6"/><circle cx="1401.6" cy="92.6" r="5.9" fill="none" stroke="#ff0000" stroke-width="1.5"/>
<text x="888.44" y="69.00" font-size="32" fill="#000" font-style="italic" textLength="22.97" lengthAdjust="spacingAndGlyphs">E</text>
<text x="910.56" y="73.30" font-size="22.5" fill="#000" textLength="17.89" lengthAdjust="spacingAndGlyphs">ct</text>
<text x="943.27" y="69.00" font-size="33" fill="#000" textLength="76.86" lengthAdjust="spacingAndGlyphs">(exp.)</text>
<text x="888.83" y="100.40" font-size="32" fill="#000" font-style="italic" textLength="19.50" lengthAdjust="spacingAndGlyphs">V</text>
<text x="906.55" y="104.70" font-size="22.5" fill="#000" textLength="23.52" lengthAdjust="spacingAndGlyphs">oc</text>
<text x="943.27" y="100.40" font-size="33" fill="#000" textLength="76.86" lengthAdjust="spacingAndGlyphs">(exp.)</text>
<text x="1200.34" y="69.00" font-size="32" fill="#000" font-style="italic" textLength="22.97" lengthAdjust="spacingAndGlyphs">E</text>
<text x="1222.54" y="73.30" font-size="22.5" fill="#000" textLength="18.10" lengthAdjust="spacingAndGlyphs">ct</text>
<text x="1244.75" y="69.00" font-size="33" fill="#000" textLength="10.24" lengthAdjust="spacingAndGlyphs">(</text>
<text x="1256.82" y="69.00" font-size="32" fill="#000" font-style="italic" textLength="15.56" lengthAdjust="spacingAndGlyphs">ρ</text>
<text x="1279.55" y="71.80" font-size="32" fill="#000" textLength="25.45" lengthAdjust="spacingAndGlyphs">=</text>
<text x="1312.33" y="69.00" font-size="32" fill="#000" textLength="15.76" lengthAdjust="spacingAndGlyphs">1</text>
<text x="1329.65" y="69.00" font-size="33" fill="#000" textLength="8.82" lengthAdjust="spacingAndGlyphs">)</text>
<text x="1200.63" y="100.40" font-size="32" fill="#000" font-style="italic" textLength="19.50" lengthAdjust="spacingAndGlyphs">V</text>
<text x="1218.45" y="104.70" font-size="22.5" fill="#000" textLength="23.52" lengthAdjust="spacingAndGlyphs">oc</text>
<text x="1244.75" y="100.40" font-size="33" fill="#000" textLength="10.24" lengthAdjust="spacingAndGlyphs">(</text>
<text x="1256.82" y="100.40" font-size="32" fill="#000" font-style="italic" textLength="15.56" lengthAdjust="spacingAndGlyphs">ρ</text>
<text x="1279.55" y="103.20" font-size="32" fill="#000" textLength="25.45" lengthAdjust="spacingAndGlyphs">=</text>
<text x="1312.33" y="100.40" font-size="32" fill="#000" textLength="15.76" lengthAdjust="spacingAndGlyphs">1</text>
<text x="1329.65" y="100.40" font-size="33" fill="#000" textLength="8.82" lengthAdjust="spacingAndGlyphs">)</text>
<text transform="translate(779.9,303.9) rotate(-90)" x="0.44" y="0.00" font-size="33.3" fill="#0000ff" font-style="italic" textLength="22.86" lengthAdjust="spacingAndGlyphs">E</text>
<text transform="translate(779.9,303.9) rotate(-90)" x="18.64" y="4.30" font-size="23" fill="#0000ff" textLength="21.94" lengthAdjust="spacingAndGlyphs">ct</text>
<text transform="translate(771.3,240.9) rotate(-90)" x="-1.25" y="0.00" font-size="32.3" fill="#000" textLength="51.28" lengthAdjust="spacingAndGlyphs">and</text>
<text transform="translate(771.3,240.9) rotate(-90)" x="59.44" y="0.00" font-size="32.3" fill="#ff0000" font-style="italic" textLength="15.23" lengthAdjust="spacingAndGlyphs">e</text>
<text transform="translate(771.3,240.9) rotate(-90)" x="73.50" y="0.00" font-size="33" fill="#ff0000" font-style="italic" textLength="20.99" lengthAdjust="spacingAndGlyphs">V</text>
<text transform="translate(771.3,240.9) rotate(-90)" x="95.42" y="4.60" font-size="23" fill="#ff0000" textLength="24.27" lengthAdjust="spacingAndGlyphs">oc</text>
<line x1="747.3" y1="95.8" x2="778.5" y2="107.4" stroke="#000" stroke-width="1.5"/>
<text transform="translate(771.3,240.9) rotate(-90)" x="156.75" y="0.00" font-size="33" fill="#000" textLength="34.38" lengthAdjust="spacingAndGlyphs">eV</text>
</svg>
</body></html>
